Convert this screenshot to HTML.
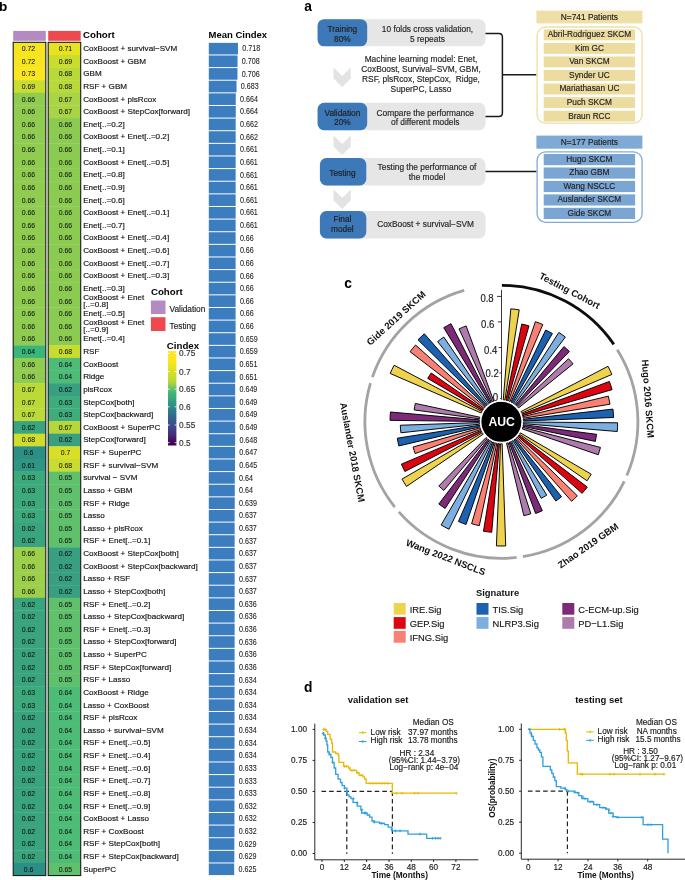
<!DOCTYPE html>
<html><head><meta charset="utf-8"><style>
html,body{margin:0;padding:0;background:#fff;}
svg{display:block;font-family:"Liberation Sans",sans-serif;will-change:transform;}
</style></head><body>
<svg width="685" height="880" viewBox="0 0 685 880">
<text x="304.2" y="10.7" font-size="13.8" font-weight="bold">a</text>
<rect x="317.6" y="19.2" width="167.9" height="27.1" rx="6.5" fill="#E6E6E6"/>
<rect x="317.6" y="19.2" width="49.6" height="27.1" rx="6.5" fill="#3D78B8"/>
<text x="342.4" y="32.3" font-size="8.3" text-anchor="middle" fill="#1e1e1e" stroke="#1e1e1e" stroke-width="0.16">Training</text>
<text x="342.4" y="41.5" font-size="8.3" text-anchor="middle" fill="#1e1e1e" stroke="#1e1e1e" stroke-width="0.16">80%</text>
<text x="427.5" y="32.3" font-size="8.35" text-anchor="middle" fill="#262626" stroke="#262626" stroke-width="0.16">10 folds cross validation,</text>
<text x="427.5" y="41.5" font-size="8.35" text-anchor="middle" fill="#262626" stroke="#262626" stroke-width="0.16">5 repeats</text>
<rect x="317.6" y="102.8" width="167.9" height="27.4" rx="6.5" fill="#E6E6E6"/>
<rect x="317.6" y="102.8" width="49.6" height="27.4" rx="6.5" fill="#3D78B8"/>
<text x="342.4" y="115.6" font-size="8.3" text-anchor="middle" fill="#1e1e1e" stroke="#1e1e1e" stroke-width="0.16">Validation</text>
<text x="342.4" y="124.8" font-size="8.3" text-anchor="middle" fill="#1e1e1e" stroke="#1e1e1e" stroke-width="0.16">20%</text>
<text x="425.3" y="115.6" font-size="8.35" text-anchor="middle" fill="#262626" stroke="#262626" stroke-width="0.16">Compare the performance</text>
<text x="425.3" y="124.8" font-size="8.35" text-anchor="middle" fill="#262626" stroke="#262626" stroke-width="0.16">of different models</text>
<rect x="319.9" y="158.0" width="165.6" height="27.4" rx="6.5" fill="#E6E6E6"/>
<rect x="319.9" y="158.0" width="46.4" height="27.4" rx="6.5" fill="#3D78B8"/>
<text x="342.4" y="175.8" font-size="8.3" text-anchor="middle" fill="#1e1e1e" stroke="#1e1e1e" stroke-width="0.16">Testing</text>
<text x="427.0" y="170.4" font-size="8.35" text-anchor="middle" fill="#262626" stroke="#262626" stroke-width="0.16">Testing the performance of</text>
<text x="427.0" y="179.8" font-size="8.35" text-anchor="middle" fill="#262626" stroke="#262626" stroke-width="0.16">the model</text>
<rect x="319.9" y="211.0" width="165.6" height="27.5" rx="6.5" fill="#E6E6E6"/>
<rect x="319.9" y="211.0" width="46.4" height="27.5" rx="6.5" fill="#3D78B8"/>
<text x="342.4" y="222.3" font-size="8.3" text-anchor="middle" fill="#1e1e1e" stroke="#1e1e1e" stroke-width="0.16">Final</text>
<text x="342.4" y="231.6" font-size="8.3" text-anchor="middle" fill="#1e1e1e" stroke="#1e1e1e" stroke-width="0.16">model</text>
<text x="425.6" y="227.1" font-size="8.35" text-anchor="middle" fill="#262626" stroke="#262626" stroke-width="0.16">CoxBoost + survival−SVM</text>
<polygon points="333.5,67.6 342.2,76.0 350.7,67.6 350.7,78.4 342.2,87.1 333.5,78.4" fill="#E3E3E3"/>
<polygon points="333.5,135.6 342.2,144.0 350.7,135.6 350.7,146.4 342.2,155.1 333.5,146.4" fill="#E3E3E3"/>
<polygon points="333.5,189.4 342.2,197.8 350.7,189.4 350.7,200.2 342.2,208.9 333.5,200.2" fill="#E3E3E3"/>
<text x="421" y="61.9" font-size="8.35" text-anchor="middle" fill="#262626" xml:space="preserve" stroke="#262626" stroke-width="0.16">Machine learning model: Enet,</text>
<text x="421" y="71.9" font-size="8.35" text-anchor="middle" fill="#262626" xml:space="preserve" stroke="#262626" stroke-width="0.16">CoxBoost, Survival−SVM, GBM,</text>
<text x="421" y="81.9" font-size="8.35" text-anchor="middle" fill="#262626" xml:space="preserve" stroke="#262626" stroke-width="0.16">RSF, plsRcox, StepCox,  Ridge,</text>
<text x="421" y="91.9" font-size="8.35" text-anchor="middle" fill="#262626" xml:space="preserve" stroke="#262626" stroke-width="0.16">SuperPC, Lasso</text>
<path d="M485.5,33.4 H498.9 Q502.4,33.4 502.4,36.9 V113 Q502.4,116.5 498.9,116.5 H485.5 M502.4,74.8 H536.5" fill="none" stroke="#1a1a1a" stroke-width="1.5"/>
<path d="M485.5,171.6 H536.5" fill="none" stroke="#1a1a1a" stroke-width="1.5"/>
<rect x="536.4" y="10.6" width="106" height="12.8" fill="#EEDFA7"/>
<text x="589.4" y="19.9" font-size="8.35" text-anchor="middle" fill="#222" stroke="#222" stroke-width="0.16">N=741 Patients</text>
<rect x="537.1" y="27" width="105" height="96.2" rx="8.5" fill="#fff" stroke="#EEDFA7" stroke-width="1.3"/>
<rect x="543.7" y="29.40" width="91.4" height="10.9" fill="#EDDC9F"/>
<text x="589.4" y="37.20" font-size="8.3" text-anchor="middle" fill="#222" stroke="#222" stroke-width="0.16">Abril-Rodriguez SKCM</text>
<rect x="543.7" y="42.95" width="91.4" height="10.9" fill="#EDDC9F"/>
<text x="589.4" y="50.75" font-size="8.3" text-anchor="middle" fill="#222" stroke="#222" stroke-width="0.16">Kim GC</text>
<rect x="543.7" y="56.50" width="91.4" height="10.9" fill="#EDDC9F"/>
<text x="589.4" y="64.30" font-size="8.3" text-anchor="middle" fill="#222" stroke="#222" stroke-width="0.16">Van SKCM</text>
<rect x="543.7" y="70.05" width="91.4" height="10.9" fill="#EDDC9F"/>
<text x="589.4" y="77.85" font-size="8.3" text-anchor="middle" fill="#222" stroke="#222" stroke-width="0.16">Synder UC</text>
<rect x="543.7" y="83.60" width="91.4" height="10.9" fill="#EDDC9F"/>
<text x="589.4" y="91.40" font-size="8.3" text-anchor="middle" fill="#222" stroke="#222" stroke-width="0.16">Mariathasan UC</text>
<rect x="543.7" y="97.15" width="91.4" height="10.9" fill="#EDDC9F"/>
<text x="589.4" y="104.95" font-size="8.3" text-anchor="middle" fill="#222" stroke="#222" stroke-width="0.16">Puch SKCM</text>
<rect x="543.7" y="110.70" width="91.4" height="10.9" fill="#EDDC9F"/>
<text x="589.4" y="118.50" font-size="8.3" text-anchor="middle" fill="#222" stroke="#222" stroke-width="0.16">Braun RCC</text>
<rect x="536.4" y="135.6" width="106" height="13.1" fill="#7FAAD6"/>
<text x="589.4" y="145.0" font-size="8.35" text-anchor="middle" fill="#222" stroke="#222" stroke-width="0.16">N=177 Patients</text>
<rect x="537.1" y="151.9" width="105" height="70.4" rx="8.5" fill="#fff" stroke="#7FAAD6" stroke-width="1.3"/>
<rect x="543.7" y="154.00" width="91.4" height="11.2" fill="#7BA6D4"/>
<text x="589.4" y="162.00" font-size="8.3" text-anchor="middle" fill="#222" stroke="#222" stroke-width="0.16">Hugo SKCM</text>
<rect x="543.7" y="167.45" width="91.4" height="11.2" fill="#7BA6D4"/>
<text x="589.4" y="175.45" font-size="8.3" text-anchor="middle" fill="#222" stroke="#222" stroke-width="0.16">Zhao GBM</text>
<rect x="543.7" y="180.90" width="91.4" height="11.2" fill="#7BA6D4"/>
<text x="589.4" y="188.90" font-size="8.3" text-anchor="middle" fill="#222" stroke="#222" stroke-width="0.16">Wang NSCLC</text>
<rect x="543.7" y="194.35" width="91.4" height="11.2" fill="#7BA6D4"/>
<text x="589.4" y="202.35" font-size="8.3" text-anchor="middle" fill="#222" stroke="#222" stroke-width="0.16">Auslander SKCM</text>
<rect x="543.7" y="207.80" width="91.4" height="11.2" fill="#7BA6D4"/>
<text x="589.4" y="215.80" font-size="8.3" text-anchor="middle" fill="#222" stroke="#222" stroke-width="0.16">Gide SKCM</text>
<text x="-0.9" y="10.9" font-size="13.6" font-weight="bold">b</text>
<rect x="13.2" y="30.9" width="32.599999999999994" height="9.9" fill="#B38BC2"/>
<rect x="48.2" y="30.9" width="32.5" height="9.9" fill="#EE4A4D"/>
<text x="83" y="38" font-size="9.7" font-weight="bold">Cohort</text>
<text x="208.5" y="38.2" font-size="9.5" font-weight="bold">Mean Cindex</text>
<rect x="13.2" y="42.30" width="32.599999999999994" height="12.93" fill="#F6E51F"/>
<rect x="48.2" y="42.30" width="32.5" height="12.93" fill="#E8E31F"/>
<rect x="13.2" y="54.92" width="32.599999999999994" height="12.93" fill="#F6E51F"/>
<rect x="48.2" y="54.92" width="32.5" height="12.93" fill="#CADD2F"/>
<rect x="13.2" y="67.55" width="32.599999999999994" height="12.93" fill="#FCE61F"/>
<rect x="48.2" y="67.55" width="32.5" height="12.93" fill="#B8D93A"/>
<rect x="13.2" y="80.17" width="32.599999999999994" height="12.93" fill="#CBDC2E"/>
<rect x="48.2" y="80.17" width="32.5" height="12.93" fill="#B8D93A"/>
<rect x="13.2" y="92.80" width="32.599999999999994" height="12.93" fill="#8FCC50"/>
<rect x="48.2" y="92.80" width="32.5" height="12.93" fill="#A8D445"/>
<rect x="13.2" y="105.42" width="32.599999999999994" height="12.93" fill="#8FCC50"/>
<rect x="48.2" y="105.42" width="32.5" height="12.93" fill="#A8D445"/>
<rect x="13.2" y="118.05" width="32.599999999999994" height="12.93" fill="#8FCC50"/>
<rect x="48.2" y="118.05" width="32.5" height="12.93" fill="#8CCB52"/>
<rect x="13.2" y="130.68" width="32.599999999999994" height="12.93" fill="#8FCC50"/>
<rect x="48.2" y="130.68" width="32.5" height="12.93" fill="#8CCB52"/>
<rect x="13.2" y="143.30" width="32.599999999999994" height="12.93" fill="#8FCC50"/>
<rect x="48.2" y="143.30" width="32.5" height="12.93" fill="#8CCB52"/>
<rect x="13.2" y="155.93" width="32.599999999999994" height="12.93" fill="#8FCC50"/>
<rect x="48.2" y="155.93" width="32.5" height="12.93" fill="#8CCB52"/>
<rect x="13.2" y="168.55" width="32.599999999999994" height="12.93" fill="#8FCC50"/>
<rect x="48.2" y="168.55" width="32.5" height="12.93" fill="#8CCB52"/>
<rect x="13.2" y="181.18" width="32.599999999999994" height="12.93" fill="#8FCC50"/>
<rect x="48.2" y="181.18" width="32.5" height="12.93" fill="#8CCB52"/>
<rect x="13.2" y="193.80" width="32.599999999999994" height="12.93" fill="#8FCC50"/>
<rect x="48.2" y="193.80" width="32.5" height="12.93" fill="#8CCB52"/>
<rect x="13.2" y="206.43" width="32.599999999999994" height="12.93" fill="#8FCC50"/>
<rect x="48.2" y="206.43" width="32.5" height="12.93" fill="#8CCB52"/>
<rect x="13.2" y="219.05" width="32.599999999999994" height="12.93" fill="#8FCC50"/>
<rect x="48.2" y="219.05" width="32.5" height="12.93" fill="#8CCB52"/>
<rect x="13.2" y="231.68" width="32.599999999999994" height="12.93" fill="#8FCC50"/>
<rect x="48.2" y="231.68" width="32.5" height="12.93" fill="#8CCB52"/>
<rect x="13.2" y="244.30" width="32.599999999999994" height="12.93" fill="#8FCC50"/>
<rect x="48.2" y="244.30" width="32.5" height="12.93" fill="#8CCB52"/>
<rect x="13.2" y="256.93" width="32.599999999999994" height="12.93" fill="#8FCC50"/>
<rect x="48.2" y="256.93" width="32.5" height="12.93" fill="#8CCB52"/>
<rect x="13.2" y="269.55" width="32.599999999999994" height="12.93" fill="#8FCC50"/>
<rect x="48.2" y="269.55" width="32.5" height="12.93" fill="#8CCB52"/>
<rect x="13.2" y="282.18" width="32.599999999999994" height="12.93" fill="#8FCC50"/>
<rect x="48.2" y="282.18" width="32.5" height="12.93" fill="#8CCB52"/>
<rect x="13.2" y="294.80" width="32.599999999999994" height="12.93" fill="#8FCC50"/>
<rect x="48.2" y="294.80" width="32.5" height="12.93" fill="#8CCB52"/>
<rect x="13.2" y="307.43" width="32.599999999999994" height="12.93" fill="#8FCC50"/>
<rect x="48.2" y="307.43" width="32.5" height="12.93" fill="#8CCB52"/>
<rect x="13.2" y="320.05" width="32.599999999999994" height="12.93" fill="#8FCC50"/>
<rect x="48.2" y="320.05" width="32.5" height="12.93" fill="#8CCB52"/>
<rect x="13.2" y="332.68" width="32.599999999999994" height="12.93" fill="#8FCC50"/>
<rect x="48.2" y="332.68" width="32.5" height="12.93" fill="#8CCB52"/>
<rect x="13.2" y="345.30" width="32.599999999999994" height="12.93" fill="#3BB57A"/>
<rect x="48.2" y="345.30" width="32.5" height="12.93" fill="#C8DC2F"/>
<rect x="13.2" y="357.93" width="32.599999999999994" height="12.93" fill="#8FCC50"/>
<rect x="48.2" y="357.93" width="32.5" height="12.93" fill="#4DBC76"/>
<rect x="13.2" y="370.55" width="32.599999999999994" height="12.93" fill="#8FCC50"/>
<rect x="48.2" y="370.55" width="32.5" height="12.93" fill="#4DBC76"/>
<rect x="13.2" y="383.18" width="32.599999999999994" height="12.93" fill="#BCDA37"/>
<rect x="48.2" y="383.18" width="32.5" height="12.93" fill="#389F80"/>
<rect x="13.2" y="395.80" width="32.599999999999994" height="12.93" fill="#BCDA37"/>
<rect x="48.2" y="395.80" width="32.5" height="12.93" fill="#3FAC7C"/>
<rect x="13.2" y="408.43" width="32.599999999999994" height="12.93" fill="#BCDA37"/>
<rect x="48.2" y="408.43" width="32.5" height="12.93" fill="#3FAC7C"/>
<rect x="13.2" y="421.05" width="32.599999999999994" height="12.93" fill="#39A47E"/>
<rect x="48.2" y="421.05" width="32.5" height="12.93" fill="#B5D73C"/>
<rect x="13.2" y="433.68" width="32.599999999999994" height="12.93" fill="#D0DE2A"/>
<rect x="48.2" y="433.68" width="32.5" height="12.93" fill="#389F80"/>
<rect x="13.2" y="446.30" width="32.599999999999994" height="12.93" fill="#2C8F85"/>
<rect x="48.2" y="446.30" width="32.5" height="12.93" fill="#D8DF27"/>
<rect x="13.2" y="458.93" width="32.599999999999994" height="12.93" fill="#2E9683"/>
<rect x="48.2" y="458.93" width="32.5" height="12.93" fill="#CBDC30"/>
<rect x="13.2" y="471.55" width="32.599999999999994" height="12.93" fill="#3DAA7D"/>
<rect x="48.2" y="471.55" width="32.5" height="12.93" fill="#60C16C"/>
<rect x="13.2" y="484.18" width="32.599999999999994" height="12.93" fill="#3DAA7D"/>
<rect x="48.2" y="484.18" width="32.5" height="12.93" fill="#60C16C"/>
<rect x="13.2" y="496.80" width="32.599999999999994" height="12.93" fill="#3DAA7D"/>
<rect x="48.2" y="496.80" width="32.5" height="12.93" fill="#60C16C"/>
<rect x="13.2" y="509.43" width="32.599999999999994" height="12.93" fill="#3DAA7D"/>
<rect x="48.2" y="509.43" width="32.5" height="12.93" fill="#60C16C"/>
<rect x="13.2" y="522.05" width="32.599999999999994" height="12.93" fill="#39A47E"/>
<rect x="48.2" y="522.05" width="32.5" height="12.93" fill="#60C16C"/>
<rect x="13.2" y="534.67" width="32.599999999999994" height="12.93" fill="#39A47E"/>
<rect x="48.2" y="534.67" width="32.5" height="12.93" fill="#60C16C"/>
<rect x="13.2" y="547.30" width="32.599999999999994" height="12.93" fill="#9CCF4A"/>
<rect x="48.2" y="547.30" width="32.5" height="12.93" fill="#389F80"/>
<rect x="13.2" y="559.92" width="32.599999999999994" height="12.93" fill="#9CCF4A"/>
<rect x="48.2" y="559.92" width="32.5" height="12.93" fill="#389F80"/>
<rect x="13.2" y="572.55" width="32.599999999999994" height="12.93" fill="#9CCF4A"/>
<rect x="48.2" y="572.55" width="32.5" height="12.93" fill="#389F80"/>
<rect x="13.2" y="585.17" width="32.599999999999994" height="12.93" fill="#9CCF4A"/>
<rect x="48.2" y="585.17" width="32.5" height="12.93" fill="#389F80"/>
<rect x="13.2" y="597.80" width="32.599999999999994" height="12.93" fill="#39A47E"/>
<rect x="48.2" y="597.80" width="32.5" height="12.93" fill="#60C16C"/>
<rect x="13.2" y="610.42" width="32.599999999999994" height="12.93" fill="#39A47E"/>
<rect x="48.2" y="610.42" width="32.5" height="12.93" fill="#60C16C"/>
<rect x="13.2" y="623.05" width="32.599999999999994" height="12.93" fill="#39A47E"/>
<rect x="48.2" y="623.05" width="32.5" height="12.93" fill="#60C16C"/>
<rect x="13.2" y="635.67" width="32.599999999999994" height="12.93" fill="#39A47E"/>
<rect x="48.2" y="635.67" width="32.5" height="12.93" fill="#60C16C"/>
<rect x="13.2" y="648.30" width="32.599999999999994" height="12.93" fill="#39A47E"/>
<rect x="48.2" y="648.30" width="32.5" height="12.93" fill="#60C16C"/>
<rect x="13.2" y="660.92" width="32.599999999999994" height="12.93" fill="#39A47E"/>
<rect x="48.2" y="660.92" width="32.5" height="12.93" fill="#60C16C"/>
<rect x="13.2" y="673.55" width="32.599999999999994" height="12.93" fill="#39A47E"/>
<rect x="48.2" y="673.55" width="32.5" height="12.93" fill="#60C16C"/>
<rect x="13.2" y="686.17" width="32.599999999999994" height="12.93" fill="#3DAA7D"/>
<rect x="48.2" y="686.17" width="32.5" height="12.93" fill="#4DBC76"/>
<rect x="13.2" y="698.80" width="32.599999999999994" height="12.93" fill="#3DAA7D"/>
<rect x="48.2" y="698.80" width="32.5" height="12.93" fill="#4DBC76"/>
<rect x="13.2" y="711.42" width="32.599999999999994" height="12.93" fill="#39A47E"/>
<rect x="48.2" y="711.42" width="32.5" height="12.93" fill="#4DBC76"/>
<rect x="13.2" y="724.05" width="32.599999999999994" height="12.93" fill="#39A47E"/>
<rect x="48.2" y="724.05" width="32.5" height="12.93" fill="#4DBC76"/>
<rect x="13.2" y="736.67" width="32.599999999999994" height="12.93" fill="#39A47E"/>
<rect x="48.2" y="736.67" width="32.5" height="12.93" fill="#4DBC76"/>
<rect x="13.2" y="749.30" width="32.599999999999994" height="12.93" fill="#39A47E"/>
<rect x="48.2" y="749.30" width="32.5" height="12.93" fill="#4DBC76"/>
<rect x="13.2" y="761.92" width="32.599999999999994" height="12.93" fill="#39A47E"/>
<rect x="48.2" y="761.92" width="32.5" height="12.93" fill="#4DBC76"/>
<rect x="13.2" y="774.55" width="32.599999999999994" height="12.93" fill="#39A47E"/>
<rect x="48.2" y="774.55" width="32.5" height="12.93" fill="#4DBC76"/>
<rect x="13.2" y="787.17" width="32.599999999999994" height="12.93" fill="#39A47E"/>
<rect x="48.2" y="787.17" width="32.5" height="12.93" fill="#4DBC76"/>
<rect x="13.2" y="799.80" width="32.599999999999994" height="12.93" fill="#39A47E"/>
<rect x="48.2" y="799.80" width="32.5" height="12.93" fill="#4DBC76"/>
<rect x="13.2" y="812.42" width="32.599999999999994" height="12.93" fill="#39A47E"/>
<rect x="48.2" y="812.42" width="32.5" height="12.93" fill="#4DBC76"/>
<rect x="13.2" y="825.05" width="32.599999999999994" height="12.93" fill="#39A47E"/>
<rect x="48.2" y="825.05" width="32.5" height="12.93" fill="#4DBC76"/>
<rect x="13.2" y="837.67" width="32.599999999999994" height="12.93" fill="#39A47E"/>
<rect x="48.2" y="837.67" width="32.5" height="12.93" fill="#4DBC76"/>
<rect x="13.2" y="850.30" width="32.599999999999994" height="12.93" fill="#39A47E"/>
<rect x="48.2" y="850.30" width="32.5" height="12.93" fill="#4DBC76"/>
<rect x="13.2" y="862.92" width="32.599999999999994" height="12.93" fill="#2C8F85"/>
<rect x="48.2" y="862.92" width="32.5" height="12.93" fill="#60C16C"/>
<rect x="13.2" y="42.3" width="32.599999999999994" height="833.25" fill="none" stroke="#1a1a1a" stroke-width="1.1"/>
<rect x="48.2" y="42.3" width="32.5" height="833.25" fill="none" stroke="#1a1a1a" stroke-width="1.1"/>
<rect x="208.8" y="42.85" width="29.15" height="11.62" fill="#3B7DBE"/>
<rect x="208.8" y="55.47" width="28.74" height="11.62" fill="#3B7DBE"/>
<rect x="208.8" y="68.10" width="28.66" height="11.62" fill="#3B7DBE"/>
<rect x="208.8" y="80.72" width="27.73" height="11.62" fill="#3B7DBE"/>
<rect x="208.8" y="93.35" width="26.96" height="11.62" fill="#3B7DBE"/>
<rect x="208.8" y="105.97" width="26.96" height="11.62" fill="#3B7DBE"/>
<rect x="208.8" y="118.60" width="26.88" height="11.62" fill="#3B7DBE"/>
<rect x="208.8" y="131.23" width="26.88" height="11.62" fill="#3B7DBE"/>
<rect x="208.8" y="143.85" width="26.84" height="11.62" fill="#3B7DBE"/>
<rect x="208.8" y="156.48" width="26.84" height="11.62" fill="#3B7DBE"/>
<rect x="208.8" y="169.10" width="26.84" height="11.62" fill="#3B7DBE"/>
<rect x="208.8" y="181.73" width="26.84" height="11.62" fill="#3B7DBE"/>
<rect x="208.8" y="194.35" width="26.84" height="11.62" fill="#3B7DBE"/>
<rect x="208.8" y="206.98" width="26.84" height="11.62" fill="#3B7DBE"/>
<rect x="208.8" y="219.60" width="26.84" height="11.62" fill="#3B7DBE"/>
<rect x="208.8" y="232.23" width="26.80" height="11.62" fill="#3B7DBE"/>
<rect x="208.8" y="244.85" width="26.80" height="11.62" fill="#3B7DBE"/>
<rect x="208.8" y="257.48" width="26.80" height="11.62" fill="#3B7DBE"/>
<rect x="208.8" y="270.10" width="26.80" height="11.62" fill="#3B7DBE"/>
<rect x="208.8" y="282.73" width="26.80" height="11.62" fill="#3B7DBE"/>
<rect x="208.8" y="295.35" width="26.80" height="11.62" fill="#3B7DBE"/>
<rect x="208.8" y="307.98" width="26.80" height="11.62" fill="#3B7DBE"/>
<rect x="208.8" y="320.60" width="26.80" height="11.62" fill="#3B7DBE"/>
<rect x="208.8" y="333.23" width="26.76" height="11.62" fill="#3B7DBE"/>
<rect x="208.8" y="345.85" width="26.76" height="11.62" fill="#3B7DBE"/>
<rect x="208.8" y="358.48" width="26.43" height="11.62" fill="#3B7DBE"/>
<rect x="208.8" y="371.10" width="26.43" height="11.62" fill="#3B7DBE"/>
<rect x="208.8" y="383.73" width="26.35" height="11.62" fill="#3B7DBE"/>
<rect x="208.8" y="396.35" width="26.35" height="11.62" fill="#3B7DBE"/>
<rect x="208.8" y="408.98" width="26.35" height="11.62" fill="#3B7DBE"/>
<rect x="208.8" y="421.60" width="26.35" height="11.62" fill="#3B7DBE"/>
<rect x="208.8" y="434.23" width="26.31" height="11.62" fill="#3B7DBE"/>
<rect x="208.8" y="446.85" width="26.27" height="11.62" fill="#3B7DBE"/>
<rect x="208.8" y="459.48" width="26.19" height="11.62" fill="#3B7DBE"/>
<rect x="208.8" y="472.10" width="25.98" height="11.62" fill="#3B7DBE"/>
<rect x="208.8" y="484.73" width="25.98" height="11.62" fill="#3B7DBE"/>
<rect x="208.8" y="497.35" width="25.94" height="11.62" fill="#3B7DBE"/>
<rect x="208.8" y="509.98" width="25.86" height="11.62" fill="#3B7DBE"/>
<rect x="208.8" y="522.60" width="25.86" height="11.62" fill="#3B7DBE"/>
<rect x="208.8" y="535.22" width="25.86" height="11.62" fill="#3B7DBE"/>
<rect x="208.8" y="547.85" width="25.86" height="11.62" fill="#3B7DBE"/>
<rect x="208.8" y="560.47" width="25.86" height="11.62" fill="#3B7DBE"/>
<rect x="208.8" y="573.10" width="25.86" height="11.62" fill="#3B7DBE"/>
<rect x="208.8" y="585.72" width="25.86" height="11.62" fill="#3B7DBE"/>
<rect x="208.8" y="598.35" width="25.82" height="11.62" fill="#3B7DBE"/>
<rect x="208.8" y="610.97" width="25.82" height="11.62" fill="#3B7DBE"/>
<rect x="208.8" y="623.60" width="25.82" height="11.62" fill="#3B7DBE"/>
<rect x="208.8" y="636.22" width="25.82" height="11.62" fill="#3B7DBE"/>
<rect x="208.8" y="648.85" width="25.82" height="11.62" fill="#3B7DBE"/>
<rect x="208.8" y="661.47" width="25.82" height="11.62" fill="#3B7DBE"/>
<rect x="208.8" y="674.10" width="25.74" height="11.62" fill="#3B7DBE"/>
<rect x="208.8" y="686.72" width="25.74" height="11.62" fill="#3B7DBE"/>
<rect x="208.8" y="699.35" width="25.74" height="11.62" fill="#3B7DBE"/>
<rect x="208.8" y="711.97" width="25.74" height="11.62" fill="#3B7DBE"/>
<rect x="208.8" y="724.60" width="25.74" height="11.62" fill="#3B7DBE"/>
<rect x="208.8" y="737.22" width="25.74" height="11.62" fill="#3B7DBE"/>
<rect x="208.8" y="749.85" width="25.74" height="11.62" fill="#3B7DBE"/>
<rect x="208.8" y="762.47" width="25.70" height="11.62" fill="#3B7DBE"/>
<rect x="208.8" y="775.10" width="25.70" height="11.62" fill="#3B7DBE"/>
<rect x="208.8" y="787.72" width="25.70" height="11.62" fill="#3B7DBE"/>
<rect x="208.8" y="800.35" width="25.66" height="11.62" fill="#3B7DBE"/>
<rect x="208.8" y="812.97" width="25.66" height="11.62" fill="#3B7DBE"/>
<rect x="208.8" y="825.60" width="25.66" height="11.62" fill="#3B7DBE"/>
<rect x="208.8" y="838.22" width="25.54" height="11.62" fill="#3B7DBE"/>
<rect x="208.8" y="850.85" width="25.54" height="11.62" fill="#3B7DBE"/>
<rect x="208.8" y="863.47" width="25.38" height="11.62" fill="#3B7DBE"/>
<text x="21.80" y="51.01" font-size="8.1" textLength="13.40" lengthAdjust="spacingAndGlyphs" fill="#111" stroke="#111" stroke-width="0.06">0.72</text>
<text x="58.80" y="51.01" font-size="8.1" textLength="13.40" lengthAdjust="spacingAndGlyphs" fill="#111" stroke="#111" stroke-width="0.06">0.71</text>
<text x="83.2" y="51.11" font-size="8.1" fill="#111" stroke="#111" stroke-width="0.16">CoxBoost + survival−SVM</text>
<text x="242.25" y="51.36" font-size="8.5" textLength="17.90" lengthAdjust="spacingAndGlyphs" fill="#1a1a1a" stroke="#1a1a1a" stroke-width="0.08">0.718</text>
<text x="21.80" y="63.64" font-size="8.1" textLength="13.40" lengthAdjust="spacingAndGlyphs" fill="#111" stroke="#111" stroke-width="0.06">0.72</text>
<text x="58.80" y="63.64" font-size="8.1" textLength="13.40" lengthAdjust="spacingAndGlyphs" fill="#111" stroke="#111" stroke-width="0.06">0.69</text>
<text x="83.2" y="63.74" font-size="8.1" fill="#111" stroke="#111" stroke-width="0.16">CoxBoost + GBM</text>
<text x="241.84" y="63.99" font-size="8.5" textLength="17.90" lengthAdjust="spacingAndGlyphs" fill="#1a1a1a" stroke="#1a1a1a" stroke-width="0.08">0.708</text>
<text x="21.80" y="76.26" font-size="8.1" textLength="13.40" lengthAdjust="spacingAndGlyphs" fill="#111" stroke="#111" stroke-width="0.06">0.73</text>
<text x="58.80" y="76.26" font-size="8.1" textLength="13.40" lengthAdjust="spacingAndGlyphs" fill="#111" stroke="#111" stroke-width="0.06">0.68</text>
<text x="83.2" y="76.36" font-size="8.1" fill="#111" stroke="#111" stroke-width="0.16">GBM</text>
<text x="241.76" y="76.61" font-size="8.5" textLength="17.90" lengthAdjust="spacingAndGlyphs" fill="#1a1a1a" stroke="#1a1a1a" stroke-width="0.08">0.706</text>
<text x="21.80" y="88.89" font-size="8.1" textLength="13.40" lengthAdjust="spacingAndGlyphs" fill="#111" stroke="#111" stroke-width="0.06">0.69</text>
<text x="58.80" y="88.89" font-size="8.1" textLength="13.40" lengthAdjust="spacingAndGlyphs" fill="#111" stroke="#111" stroke-width="0.06">0.68</text>
<text x="83.2" y="88.99" font-size="8.1" fill="#111" stroke="#111" stroke-width="0.16">RSF + GBM</text>
<text x="240.83" y="89.24" font-size="8.5" textLength="17.90" lengthAdjust="spacingAndGlyphs" fill="#1a1a1a" stroke="#1a1a1a" stroke-width="0.08">0.683</text>
<text x="21.80" y="101.51" font-size="8.1" textLength="13.40" lengthAdjust="spacingAndGlyphs" fill="#111" stroke="#111" stroke-width="0.06">0.66</text>
<text x="58.80" y="101.51" font-size="8.1" textLength="13.40" lengthAdjust="spacingAndGlyphs" fill="#111" stroke="#111" stroke-width="0.06">0.67</text>
<text x="83.2" y="101.61" font-size="8.1" fill="#111" stroke="#111" stroke-width="0.16">CoxBoost + plsRcox</text>
<text x="240.06" y="101.86" font-size="8.5" textLength="17.90" lengthAdjust="spacingAndGlyphs" fill="#1a1a1a" stroke="#1a1a1a" stroke-width="0.08">0.664</text>
<text x="21.80" y="114.14" font-size="8.1" textLength="13.40" lengthAdjust="spacingAndGlyphs" fill="#111" stroke="#111" stroke-width="0.06">0.66</text>
<text x="58.80" y="114.14" font-size="8.1" textLength="13.40" lengthAdjust="spacingAndGlyphs" fill="#111" stroke="#111" stroke-width="0.06">0.67</text>
<text x="83.2" y="114.24" font-size="8.1" fill="#111" stroke="#111" stroke-width="0.16">CoxBoost + StepCox[forward]</text>
<text x="240.06" y="114.49" font-size="8.5" textLength="17.90" lengthAdjust="spacingAndGlyphs" fill="#1a1a1a" stroke="#1a1a1a" stroke-width="0.08">0.664</text>
<text x="21.80" y="126.76" font-size="8.1" textLength="13.40" lengthAdjust="spacingAndGlyphs" fill="#111" stroke="#111" stroke-width="0.06">0.66</text>
<text x="58.80" y="126.76" font-size="8.1" textLength="13.40" lengthAdjust="spacingAndGlyphs" fill="#111" stroke="#111" stroke-width="0.06">0.66</text>
<text x="83.2" y="126.86" font-size="8.1" fill="#111" stroke="#111" stroke-width="0.16">Enet[..=0.2]</text>
<text x="239.98" y="127.11" font-size="8.5" textLength="17.90" lengthAdjust="spacingAndGlyphs" fill="#1a1a1a" stroke="#1a1a1a" stroke-width="0.08">0.662</text>
<text x="21.80" y="139.39" font-size="8.1" textLength="13.40" lengthAdjust="spacingAndGlyphs" fill="#111" stroke="#111" stroke-width="0.06">0.66</text>
<text x="58.80" y="139.39" font-size="8.1" textLength="13.40" lengthAdjust="spacingAndGlyphs" fill="#111" stroke="#111" stroke-width="0.06">0.66</text>
<text x="83.2" y="139.49" font-size="8.1" fill="#111" stroke="#111" stroke-width="0.16">CoxBoost + Enet[..=0.2]</text>
<text x="239.98" y="139.74" font-size="8.5" textLength="17.90" lengthAdjust="spacingAndGlyphs" fill="#1a1a1a" stroke="#1a1a1a" stroke-width="0.08">0.662</text>
<text x="21.80" y="152.01" font-size="8.1" textLength="13.40" lengthAdjust="spacingAndGlyphs" fill="#111" stroke="#111" stroke-width="0.06">0.66</text>
<text x="58.80" y="152.01" font-size="8.1" textLength="13.40" lengthAdjust="spacingAndGlyphs" fill="#111" stroke="#111" stroke-width="0.06">0.66</text>
<text x="83.2" y="152.11" font-size="8.1" fill="#111" stroke="#111" stroke-width="0.16">Enet[..=0.1]</text>
<text x="239.94" y="152.36" font-size="8.5" textLength="17.90" lengthAdjust="spacingAndGlyphs" fill="#1a1a1a" stroke="#1a1a1a" stroke-width="0.08">0.661</text>
<text x="21.80" y="164.64" font-size="8.1" textLength="13.40" lengthAdjust="spacingAndGlyphs" fill="#111" stroke="#111" stroke-width="0.06">0.66</text>
<text x="58.80" y="164.64" font-size="8.1" textLength="13.40" lengthAdjust="spacingAndGlyphs" fill="#111" stroke="#111" stroke-width="0.06">0.66</text>
<text x="83.2" y="164.74" font-size="8.1" fill="#111" stroke="#111" stroke-width="0.16">CoxBoost + Enet[..=0.5]</text>
<text x="239.94" y="164.99" font-size="8.5" textLength="17.90" lengthAdjust="spacingAndGlyphs" fill="#1a1a1a" stroke="#1a1a1a" stroke-width="0.08">0.661</text>
<text x="21.80" y="177.26" font-size="8.1" textLength="13.40" lengthAdjust="spacingAndGlyphs" fill="#111" stroke="#111" stroke-width="0.06">0.66</text>
<text x="58.80" y="177.26" font-size="8.1" textLength="13.40" lengthAdjust="spacingAndGlyphs" fill="#111" stroke="#111" stroke-width="0.06">0.66</text>
<text x="83.2" y="177.36" font-size="8.1" fill="#111" stroke="#111" stroke-width="0.16">Enet[..=0.8]</text>
<text x="239.94" y="177.61" font-size="8.5" textLength="17.90" lengthAdjust="spacingAndGlyphs" fill="#1a1a1a" stroke="#1a1a1a" stroke-width="0.08">0.661</text>
<text x="21.80" y="189.89" font-size="8.1" textLength="13.40" lengthAdjust="spacingAndGlyphs" fill="#111" stroke="#111" stroke-width="0.06">0.66</text>
<text x="58.80" y="189.89" font-size="8.1" textLength="13.40" lengthAdjust="spacingAndGlyphs" fill="#111" stroke="#111" stroke-width="0.06">0.66</text>
<text x="83.2" y="189.99" font-size="8.1" fill="#111" stroke="#111" stroke-width="0.16">Enet[..=0.9]</text>
<text x="239.94" y="190.24" font-size="8.5" textLength="17.90" lengthAdjust="spacingAndGlyphs" fill="#1a1a1a" stroke="#1a1a1a" stroke-width="0.08">0.661</text>
<text x="21.80" y="202.51" font-size="8.1" textLength="13.40" lengthAdjust="spacingAndGlyphs" fill="#111" stroke="#111" stroke-width="0.06">0.66</text>
<text x="58.80" y="202.51" font-size="8.1" textLength="13.40" lengthAdjust="spacingAndGlyphs" fill="#111" stroke="#111" stroke-width="0.06">0.66</text>
<text x="83.2" y="202.61" font-size="8.1" fill="#111" stroke="#111" stroke-width="0.16">Enet[..=0.6]</text>
<text x="239.94" y="202.86" font-size="8.5" textLength="17.90" lengthAdjust="spacingAndGlyphs" fill="#1a1a1a" stroke="#1a1a1a" stroke-width="0.08">0.661</text>
<text x="21.80" y="215.14" font-size="8.1" textLength="13.40" lengthAdjust="spacingAndGlyphs" fill="#111" stroke="#111" stroke-width="0.06">0.66</text>
<text x="58.80" y="215.14" font-size="8.1" textLength="13.40" lengthAdjust="spacingAndGlyphs" fill="#111" stroke="#111" stroke-width="0.06">0.66</text>
<text x="83.2" y="215.24" font-size="8.1" fill="#111" stroke="#111" stroke-width="0.16">CoxBoost + Enet[..=0.1]</text>
<text x="239.94" y="215.49" font-size="8.5" textLength="17.90" lengthAdjust="spacingAndGlyphs" fill="#1a1a1a" stroke="#1a1a1a" stroke-width="0.08">0.661</text>
<text x="21.80" y="227.76" font-size="8.1" textLength="13.40" lengthAdjust="spacingAndGlyphs" fill="#111" stroke="#111" stroke-width="0.06">0.66</text>
<text x="58.80" y="227.76" font-size="8.1" textLength="13.40" lengthAdjust="spacingAndGlyphs" fill="#111" stroke="#111" stroke-width="0.06">0.66</text>
<text x="83.2" y="227.86" font-size="8.1" fill="#111" stroke="#111" stroke-width="0.16">Enet[..=0.7]</text>
<text x="239.94" y="228.11" font-size="8.5" textLength="17.90" lengthAdjust="spacingAndGlyphs" fill="#1a1a1a" stroke="#1a1a1a" stroke-width="0.08">0.661</text>
<text x="21.80" y="240.39" font-size="8.1" textLength="13.40" lengthAdjust="spacingAndGlyphs" fill="#111" stroke="#111" stroke-width="0.06">0.66</text>
<text x="58.80" y="240.39" font-size="8.1" textLength="13.40" lengthAdjust="spacingAndGlyphs" fill="#111" stroke="#111" stroke-width="0.06">0.66</text>
<text x="83.2" y="240.49" font-size="8.1" fill="#111" stroke="#111" stroke-width="0.16">CoxBoost + Enet[..=0.4]</text>
<text x="239.90" y="240.74" font-size="8.5" textLength="13.92" lengthAdjust="spacingAndGlyphs" fill="#1a1a1a" stroke="#1a1a1a" stroke-width="0.08">0.66</text>
<text x="21.80" y="253.01" font-size="8.1" textLength="13.40" lengthAdjust="spacingAndGlyphs" fill="#111" stroke="#111" stroke-width="0.06">0.66</text>
<text x="58.80" y="253.01" font-size="8.1" textLength="13.40" lengthAdjust="spacingAndGlyphs" fill="#111" stroke="#111" stroke-width="0.06">0.66</text>
<text x="83.2" y="253.11" font-size="8.1" fill="#111" stroke="#111" stroke-width="0.16">CoxBoost + Enet[..=0.6]</text>
<text x="239.90" y="253.36" font-size="8.5" textLength="13.92" lengthAdjust="spacingAndGlyphs" fill="#1a1a1a" stroke="#1a1a1a" stroke-width="0.08">0.66</text>
<text x="21.80" y="265.64" font-size="8.1" textLength="13.40" lengthAdjust="spacingAndGlyphs" fill="#111" stroke="#111" stroke-width="0.06">0.66</text>
<text x="58.80" y="265.64" font-size="8.1" textLength="13.40" lengthAdjust="spacingAndGlyphs" fill="#111" stroke="#111" stroke-width="0.06">0.66</text>
<text x="83.2" y="265.74" font-size="8.1" fill="#111" stroke="#111" stroke-width="0.16">CoxBoost + Enet[..=0.7]</text>
<text x="239.90" y="265.99" font-size="8.5" textLength="13.92" lengthAdjust="spacingAndGlyphs" fill="#1a1a1a" stroke="#1a1a1a" stroke-width="0.08">0.66</text>
<text x="21.80" y="278.26" font-size="8.1" textLength="13.40" lengthAdjust="spacingAndGlyphs" fill="#111" stroke="#111" stroke-width="0.06">0.66</text>
<text x="58.80" y="278.26" font-size="8.1" textLength="13.40" lengthAdjust="spacingAndGlyphs" fill="#111" stroke="#111" stroke-width="0.06">0.66</text>
<text x="83.2" y="278.36" font-size="8.1" fill="#111" stroke="#111" stroke-width="0.16">CoxBoost + Enet[..=0.3]</text>
<text x="239.90" y="278.61" font-size="8.5" textLength="13.92" lengthAdjust="spacingAndGlyphs" fill="#1a1a1a" stroke="#1a1a1a" stroke-width="0.08">0.66</text>
<text x="21.80" y="290.89" font-size="8.1" textLength="13.40" lengthAdjust="spacingAndGlyphs" fill="#111" stroke="#111" stroke-width="0.06">0.66</text>
<text x="58.80" y="290.89" font-size="8.1" textLength="13.40" lengthAdjust="spacingAndGlyphs" fill="#111" stroke="#111" stroke-width="0.06">0.66</text>
<text x="83.2" y="290.99" font-size="8.1" fill="#111" stroke="#111" stroke-width="0.16">Enet[..=0.3]</text>
<text x="239.90" y="291.24" font-size="8.5" textLength="13.92" lengthAdjust="spacingAndGlyphs" fill="#1a1a1a" stroke="#1a1a1a" stroke-width="0.08">0.66</text>
<text x="21.80" y="303.51" font-size="8.1" textLength="13.40" lengthAdjust="spacingAndGlyphs" fill="#111" stroke="#111" stroke-width="0.06">0.66</text>
<text x="58.80" y="303.51" font-size="8.1" textLength="13.40" lengthAdjust="spacingAndGlyphs" fill="#111" stroke="#111" stroke-width="0.06">0.66</text>
<text x="83.2" y="300.01" font-size="8.1" fill="#111" stroke="#111" stroke-width="0.16">CoxBoost + Enet</text>
<text x="83.2" y="306.81" font-size="8.1" fill="#111" stroke="#111" stroke-width="0.16">[..=0.8]</text>
<text x="239.90" y="303.86" font-size="8.5" textLength="13.92" lengthAdjust="spacingAndGlyphs" fill="#1a1a1a" stroke="#1a1a1a" stroke-width="0.08">0.66</text>
<text x="21.80" y="316.14" font-size="8.1" textLength="13.40" lengthAdjust="spacingAndGlyphs" fill="#111" stroke="#111" stroke-width="0.06">0.66</text>
<text x="58.80" y="316.14" font-size="8.1" textLength="13.40" lengthAdjust="spacingAndGlyphs" fill="#111" stroke="#111" stroke-width="0.06">0.66</text>
<text x="83.2" y="316.24" font-size="8.1" fill="#111" stroke="#111" stroke-width="0.16">Enet[..=0.5]</text>
<text x="239.90" y="316.49" font-size="8.5" textLength="13.92" lengthAdjust="spacingAndGlyphs" fill="#1a1a1a" stroke="#1a1a1a" stroke-width="0.08">0.66</text>
<text x="21.80" y="328.76" font-size="8.1" textLength="13.40" lengthAdjust="spacingAndGlyphs" fill="#111" stroke="#111" stroke-width="0.06">0.66</text>
<text x="58.80" y="328.76" font-size="8.1" textLength="13.40" lengthAdjust="spacingAndGlyphs" fill="#111" stroke="#111" stroke-width="0.06">0.66</text>
<text x="83.2" y="325.26" font-size="8.1" fill="#111" stroke="#111" stroke-width="0.16">CoxBoost + Enet</text>
<text x="83.2" y="332.06" font-size="8.1" fill="#111" stroke="#111" stroke-width="0.16">[..=0.9]</text>
<text x="239.90" y="329.11" font-size="8.5" textLength="13.92" lengthAdjust="spacingAndGlyphs" fill="#1a1a1a" stroke="#1a1a1a" stroke-width="0.08">0.66</text>
<text x="21.80" y="341.39" font-size="8.1" textLength="13.40" lengthAdjust="spacingAndGlyphs" fill="#111" stroke="#111" stroke-width="0.06">0.66</text>
<text x="58.80" y="341.39" font-size="8.1" textLength="13.40" lengthAdjust="spacingAndGlyphs" fill="#111" stroke="#111" stroke-width="0.06">0.66</text>
<text x="83.2" y="341.49" font-size="8.1" fill="#111" stroke="#111" stroke-width="0.16">Enet[..=0.4]</text>
<text x="239.86" y="341.74" font-size="8.5" textLength="17.90" lengthAdjust="spacingAndGlyphs" fill="#1a1a1a" stroke="#1a1a1a" stroke-width="0.08">0.659</text>
<text x="21.80" y="354.01" font-size="8.1" textLength="13.40" lengthAdjust="spacingAndGlyphs" fill="#111" stroke="#111" stroke-width="0.06">0.64</text>
<text x="58.80" y="354.01" font-size="8.1" textLength="13.40" lengthAdjust="spacingAndGlyphs" fill="#111" stroke="#111" stroke-width="0.06">0.68</text>
<text x="83.2" y="354.11" font-size="8.1" fill="#111" stroke="#111" stroke-width="0.16">RSF</text>
<text x="239.86" y="354.36" font-size="8.5" textLength="17.90" lengthAdjust="spacingAndGlyphs" fill="#1a1a1a" stroke="#1a1a1a" stroke-width="0.08">0.659</text>
<text x="21.80" y="366.64" font-size="8.1" textLength="13.40" lengthAdjust="spacingAndGlyphs" fill="#111" stroke="#111" stroke-width="0.06">0.66</text>
<text x="58.80" y="366.64" font-size="8.1" textLength="13.40" lengthAdjust="spacingAndGlyphs" fill="#111" stroke="#111" stroke-width="0.06">0.64</text>
<text x="83.2" y="366.74" font-size="8.1" fill="#111" stroke="#111" stroke-width="0.16">CoxBoost</text>
<text x="239.53" y="366.99" font-size="8.5" textLength="17.90" lengthAdjust="spacingAndGlyphs" fill="#1a1a1a" stroke="#1a1a1a" stroke-width="0.08">0.651</text>
<text x="21.80" y="379.26" font-size="8.1" textLength="13.40" lengthAdjust="spacingAndGlyphs" fill="#111" stroke="#111" stroke-width="0.06">0.66</text>
<text x="58.80" y="379.26" font-size="8.1" textLength="13.40" lengthAdjust="spacingAndGlyphs" fill="#111" stroke="#111" stroke-width="0.06">0.64</text>
<text x="83.2" y="379.36" font-size="8.1" fill="#111" stroke="#111" stroke-width="0.16">Ridge</text>
<text x="239.53" y="379.61" font-size="8.5" textLength="17.90" lengthAdjust="spacingAndGlyphs" fill="#1a1a1a" stroke="#1a1a1a" stroke-width="0.08">0.651</text>
<text x="21.80" y="391.89" font-size="8.1" textLength="13.40" lengthAdjust="spacingAndGlyphs" fill="#111" stroke="#111" stroke-width="0.06">0.67</text>
<text x="58.80" y="391.89" font-size="8.1" textLength="13.40" lengthAdjust="spacingAndGlyphs" fill="#111" stroke="#111" stroke-width="0.06">0.62</text>
<text x="83.2" y="391.99" font-size="8.1" fill="#111" stroke="#111" stroke-width="0.16">plsRcox</text>
<text x="239.45" y="392.24" font-size="8.5" textLength="17.90" lengthAdjust="spacingAndGlyphs" fill="#1a1a1a" stroke="#1a1a1a" stroke-width="0.08">0.649</text>
<text x="21.80" y="404.51" font-size="8.1" textLength="13.40" lengthAdjust="spacingAndGlyphs" fill="#111" stroke="#111" stroke-width="0.06">0.67</text>
<text x="58.80" y="404.51" font-size="8.1" textLength="13.40" lengthAdjust="spacingAndGlyphs" fill="#111" stroke="#111" stroke-width="0.06">0.63</text>
<text x="83.2" y="404.61" font-size="8.1" fill="#111" stroke="#111" stroke-width="0.16">StepCox[both]</text>
<text x="239.45" y="404.86" font-size="8.5" textLength="17.90" lengthAdjust="spacingAndGlyphs" fill="#1a1a1a" stroke="#1a1a1a" stroke-width="0.08">0.649</text>
<text x="21.80" y="417.14" font-size="8.1" textLength="13.40" lengthAdjust="spacingAndGlyphs" fill="#111" stroke="#111" stroke-width="0.06">0.67</text>
<text x="58.80" y="417.14" font-size="8.1" textLength="13.40" lengthAdjust="spacingAndGlyphs" fill="#111" stroke="#111" stroke-width="0.06">0.63</text>
<text x="83.2" y="417.24" font-size="8.1" fill="#111" stroke="#111" stroke-width="0.16">StepCox[backward]</text>
<text x="239.45" y="417.49" font-size="8.5" textLength="17.90" lengthAdjust="spacingAndGlyphs" fill="#1a1a1a" stroke="#1a1a1a" stroke-width="0.08">0.649</text>
<text x="21.80" y="429.76" font-size="8.1" textLength="13.40" lengthAdjust="spacingAndGlyphs" fill="#111" stroke="#111" stroke-width="0.06">0.62</text>
<text x="58.80" y="429.76" font-size="8.1" textLength="13.40" lengthAdjust="spacingAndGlyphs" fill="#111" stroke="#111" stroke-width="0.06">0.67</text>
<text x="83.2" y="429.86" font-size="8.1" fill="#111" stroke="#111" stroke-width="0.16">CoxBoost + SuperPC</text>
<text x="239.45" y="430.11" font-size="8.5" textLength="17.90" lengthAdjust="spacingAndGlyphs" fill="#1a1a1a" stroke="#1a1a1a" stroke-width="0.08">0.649</text>
<text x="21.80" y="442.39" font-size="8.1" textLength="13.40" lengthAdjust="spacingAndGlyphs" fill="#111" stroke="#111" stroke-width="0.06">0.68</text>
<text x="58.80" y="442.39" font-size="8.1" textLength="13.40" lengthAdjust="spacingAndGlyphs" fill="#111" stroke="#111" stroke-width="0.06">0.62</text>
<text x="83.2" y="442.49" font-size="8.1" fill="#111" stroke="#111" stroke-width="0.16">StepCox[forward]</text>
<text x="239.41" y="442.74" font-size="8.5" textLength="17.90" lengthAdjust="spacingAndGlyphs" fill="#1a1a1a" stroke="#1a1a1a" stroke-width="0.08">0.648</text>
<text x="23.71" y="455.01" font-size="8.1" textLength="9.57" lengthAdjust="spacingAndGlyphs" fill="#111" stroke="#111" stroke-width="0.06">0.6</text>
<text x="60.71" y="455.01" font-size="8.1" textLength="9.57" lengthAdjust="spacingAndGlyphs" fill="#111" stroke="#111" stroke-width="0.06">0.7</text>
<text x="83.2" y="455.11" font-size="8.1" fill="#111" stroke="#111" stroke-width="0.16">RSF + SuperPC</text>
<text x="239.37" y="455.36" font-size="8.5" textLength="17.90" lengthAdjust="spacingAndGlyphs" fill="#1a1a1a" stroke="#1a1a1a" stroke-width="0.08">0.647</text>
<text x="21.80" y="467.64" font-size="8.1" textLength="13.40" lengthAdjust="spacingAndGlyphs" fill="#111" stroke="#111" stroke-width="0.06">0.61</text>
<text x="58.80" y="467.64" font-size="8.1" textLength="13.40" lengthAdjust="spacingAndGlyphs" fill="#111" stroke="#111" stroke-width="0.06">0.68</text>
<text x="83.2" y="467.74" font-size="8.1" fill="#111" stroke="#111" stroke-width="0.16">RSF + survival−SVM</text>
<text x="239.29" y="467.99" font-size="8.5" textLength="17.90" lengthAdjust="spacingAndGlyphs" fill="#1a1a1a" stroke="#1a1a1a" stroke-width="0.08">0.645</text>
<text x="21.80" y="480.26" font-size="8.1" textLength="13.40" lengthAdjust="spacingAndGlyphs" fill="#111" stroke="#111" stroke-width="0.06">0.63</text>
<text x="58.80" y="480.26" font-size="8.1" textLength="13.40" lengthAdjust="spacingAndGlyphs" fill="#111" stroke="#111" stroke-width="0.06">0.65</text>
<text x="83.2" y="480.36" font-size="8.1" fill="#111" stroke="#111" stroke-width="0.16">survival − SVM</text>
<text x="239.08" y="480.61" font-size="8.5" textLength="13.92" lengthAdjust="spacingAndGlyphs" fill="#1a1a1a" stroke="#1a1a1a" stroke-width="0.08">0.64</text>
<text x="21.80" y="492.89" font-size="8.1" textLength="13.40" lengthAdjust="spacingAndGlyphs" fill="#111" stroke="#111" stroke-width="0.06">0.63</text>
<text x="58.80" y="492.89" font-size="8.1" textLength="13.40" lengthAdjust="spacingAndGlyphs" fill="#111" stroke="#111" stroke-width="0.06">0.65</text>
<text x="83.2" y="492.99" font-size="8.1" fill="#111" stroke="#111" stroke-width="0.16">Lasso + GBM</text>
<text x="239.08" y="493.24" font-size="8.5" textLength="13.92" lengthAdjust="spacingAndGlyphs" fill="#1a1a1a" stroke="#1a1a1a" stroke-width="0.08">0.64</text>
<text x="21.80" y="505.51" font-size="8.1" textLength="13.40" lengthAdjust="spacingAndGlyphs" fill="#111" stroke="#111" stroke-width="0.06">0.63</text>
<text x="58.80" y="505.51" font-size="8.1" textLength="13.40" lengthAdjust="spacingAndGlyphs" fill="#111" stroke="#111" stroke-width="0.06">0.65</text>
<text x="83.2" y="505.61" font-size="8.1" fill="#111" stroke="#111" stroke-width="0.16">RSF + Ridge</text>
<text x="239.04" y="505.86" font-size="8.5" textLength="17.90" lengthAdjust="spacingAndGlyphs" fill="#1a1a1a" stroke="#1a1a1a" stroke-width="0.08">0.639</text>
<text x="21.80" y="518.14" font-size="8.1" textLength="13.40" lengthAdjust="spacingAndGlyphs" fill="#111" stroke="#111" stroke-width="0.06">0.63</text>
<text x="58.80" y="518.14" font-size="8.1" textLength="13.40" lengthAdjust="spacingAndGlyphs" fill="#111" stroke="#111" stroke-width="0.06">0.65</text>
<text x="83.2" y="518.24" font-size="8.1" fill="#111" stroke="#111" stroke-width="0.16">Lasso</text>
<text x="238.96" y="518.49" font-size="8.5" textLength="17.90" lengthAdjust="spacingAndGlyphs" fill="#1a1a1a" stroke="#1a1a1a" stroke-width="0.08">0.637</text>
<text x="21.80" y="530.76" font-size="8.1" textLength="13.40" lengthAdjust="spacingAndGlyphs" fill="#111" stroke="#111" stroke-width="0.06">0.62</text>
<text x="58.80" y="530.76" font-size="8.1" textLength="13.40" lengthAdjust="spacingAndGlyphs" fill="#111" stroke="#111" stroke-width="0.06">0.65</text>
<text x="83.2" y="530.86" font-size="8.1" fill="#111" stroke="#111" stroke-width="0.16">Lasso + plsRcox</text>
<text x="238.96" y="531.11" font-size="8.5" textLength="17.90" lengthAdjust="spacingAndGlyphs" fill="#1a1a1a" stroke="#1a1a1a" stroke-width="0.08">0.637</text>
<text x="21.80" y="543.39" font-size="8.1" textLength="13.40" lengthAdjust="spacingAndGlyphs" fill="#111" stroke="#111" stroke-width="0.06">0.62</text>
<text x="58.80" y="543.39" font-size="8.1" textLength="13.40" lengthAdjust="spacingAndGlyphs" fill="#111" stroke="#111" stroke-width="0.06">0.65</text>
<text x="83.2" y="543.49" font-size="8.1" fill="#111" stroke="#111" stroke-width="0.16">RSF + Enet[..=0.1]</text>
<text x="238.96" y="543.74" font-size="8.5" textLength="17.90" lengthAdjust="spacingAndGlyphs" fill="#1a1a1a" stroke="#1a1a1a" stroke-width="0.08">0.637</text>
<text x="21.80" y="556.01" font-size="8.1" textLength="13.40" lengthAdjust="spacingAndGlyphs" fill="#111" stroke="#111" stroke-width="0.06">0.66</text>
<text x="58.80" y="556.01" font-size="8.1" textLength="13.40" lengthAdjust="spacingAndGlyphs" fill="#111" stroke="#111" stroke-width="0.06">0.62</text>
<text x="83.2" y="556.11" font-size="8.1" fill="#111" stroke="#111" stroke-width="0.16">CoxBoost + StepCox[both]</text>
<text x="238.96" y="556.36" font-size="8.5" textLength="17.90" lengthAdjust="spacingAndGlyphs" fill="#1a1a1a" stroke="#1a1a1a" stroke-width="0.08">0.637</text>
<text x="21.80" y="568.64" font-size="8.1" textLength="13.40" lengthAdjust="spacingAndGlyphs" fill="#111" stroke="#111" stroke-width="0.06">0.66</text>
<text x="58.80" y="568.64" font-size="8.1" textLength="13.40" lengthAdjust="spacingAndGlyphs" fill="#111" stroke="#111" stroke-width="0.06">0.62</text>
<text x="83.2" y="568.74" font-size="8.1" fill="#111" stroke="#111" stroke-width="0.16">CoxBoost + StepCox[backward]</text>
<text x="238.96" y="568.99" font-size="8.5" textLength="17.90" lengthAdjust="spacingAndGlyphs" fill="#1a1a1a" stroke="#1a1a1a" stroke-width="0.08">0.637</text>
<text x="21.80" y="581.26" font-size="8.1" textLength="13.40" lengthAdjust="spacingAndGlyphs" fill="#111" stroke="#111" stroke-width="0.06">0.66</text>
<text x="58.80" y="581.26" font-size="8.1" textLength="13.40" lengthAdjust="spacingAndGlyphs" fill="#111" stroke="#111" stroke-width="0.06">0.62</text>
<text x="83.2" y="581.36" font-size="8.1" fill="#111" stroke="#111" stroke-width="0.16">Lasso + RSF</text>
<text x="238.96" y="581.61" font-size="8.5" textLength="17.90" lengthAdjust="spacingAndGlyphs" fill="#1a1a1a" stroke="#1a1a1a" stroke-width="0.08">0.637</text>
<text x="21.80" y="593.89" font-size="8.1" textLength="13.40" lengthAdjust="spacingAndGlyphs" fill="#111" stroke="#111" stroke-width="0.06">0.66</text>
<text x="58.80" y="593.89" font-size="8.1" textLength="13.40" lengthAdjust="spacingAndGlyphs" fill="#111" stroke="#111" stroke-width="0.06">0.62</text>
<text x="83.2" y="593.99" font-size="8.1" fill="#111" stroke="#111" stroke-width="0.16">Lasso + StepCox[both]</text>
<text x="238.96" y="594.24" font-size="8.5" textLength="17.90" lengthAdjust="spacingAndGlyphs" fill="#1a1a1a" stroke="#1a1a1a" stroke-width="0.08">0.637</text>
<text x="21.80" y="606.51" font-size="8.1" textLength="13.40" lengthAdjust="spacingAndGlyphs" fill="#111" stroke="#111" stroke-width="0.06">0.62</text>
<text x="58.80" y="606.51" font-size="8.1" textLength="13.40" lengthAdjust="spacingAndGlyphs" fill="#111" stroke="#111" stroke-width="0.06">0.65</text>
<text x="83.2" y="606.61" font-size="8.1" fill="#111" stroke="#111" stroke-width="0.16">RSF + Enet[..=0.2]</text>
<text x="238.92" y="606.86" font-size="8.5" textLength="17.90" lengthAdjust="spacingAndGlyphs" fill="#1a1a1a" stroke="#1a1a1a" stroke-width="0.08">0.636</text>
<text x="21.80" y="619.14" font-size="8.1" textLength="13.40" lengthAdjust="spacingAndGlyphs" fill="#111" stroke="#111" stroke-width="0.06">0.62</text>
<text x="58.80" y="619.14" font-size="8.1" textLength="13.40" lengthAdjust="spacingAndGlyphs" fill="#111" stroke="#111" stroke-width="0.06">0.65</text>
<text x="83.2" y="619.24" font-size="8.1" fill="#111" stroke="#111" stroke-width="0.16">Lasso + StepCox[backward]</text>
<text x="238.92" y="619.49" font-size="8.5" textLength="17.90" lengthAdjust="spacingAndGlyphs" fill="#1a1a1a" stroke="#1a1a1a" stroke-width="0.08">0.636</text>
<text x="21.80" y="631.76" font-size="8.1" textLength="13.40" lengthAdjust="spacingAndGlyphs" fill="#111" stroke="#111" stroke-width="0.06">0.62</text>
<text x="58.80" y="631.76" font-size="8.1" textLength="13.40" lengthAdjust="spacingAndGlyphs" fill="#111" stroke="#111" stroke-width="0.06">0.65</text>
<text x="83.2" y="631.86" font-size="8.1" fill="#111" stroke="#111" stroke-width="0.16">RSF + Enet[..=0.3]</text>
<text x="238.92" y="632.11" font-size="8.5" textLength="17.90" lengthAdjust="spacingAndGlyphs" fill="#1a1a1a" stroke="#1a1a1a" stroke-width="0.08">0.636</text>
<text x="21.80" y="644.39" font-size="8.1" textLength="13.40" lengthAdjust="spacingAndGlyphs" fill="#111" stroke="#111" stroke-width="0.06">0.62</text>
<text x="58.80" y="644.39" font-size="8.1" textLength="13.40" lengthAdjust="spacingAndGlyphs" fill="#111" stroke="#111" stroke-width="0.06">0.65</text>
<text x="83.2" y="644.49" font-size="8.1" fill="#111" stroke="#111" stroke-width="0.16">Lasso + StepCox[forward]</text>
<text x="238.92" y="644.74" font-size="8.5" textLength="17.90" lengthAdjust="spacingAndGlyphs" fill="#1a1a1a" stroke="#1a1a1a" stroke-width="0.08">0.636</text>
<text x="21.80" y="657.01" font-size="8.1" textLength="13.40" lengthAdjust="spacingAndGlyphs" fill="#111" stroke="#111" stroke-width="0.06">0.62</text>
<text x="58.80" y="657.01" font-size="8.1" textLength="13.40" lengthAdjust="spacingAndGlyphs" fill="#111" stroke="#111" stroke-width="0.06">0.65</text>
<text x="83.2" y="657.11" font-size="8.1" fill="#111" stroke="#111" stroke-width="0.16">Lasso + SuperPC</text>
<text x="238.92" y="657.36" font-size="8.5" textLength="17.90" lengthAdjust="spacingAndGlyphs" fill="#1a1a1a" stroke="#1a1a1a" stroke-width="0.08">0.636</text>
<text x="21.80" y="669.64" font-size="8.1" textLength="13.40" lengthAdjust="spacingAndGlyphs" fill="#111" stroke="#111" stroke-width="0.06">0.62</text>
<text x="58.80" y="669.64" font-size="8.1" textLength="13.40" lengthAdjust="spacingAndGlyphs" fill="#111" stroke="#111" stroke-width="0.06">0.65</text>
<text x="83.2" y="669.74" font-size="8.1" fill="#111" stroke="#111" stroke-width="0.16">RSF + StepCox[forward]</text>
<text x="238.92" y="669.99" font-size="8.5" textLength="17.90" lengthAdjust="spacingAndGlyphs" fill="#1a1a1a" stroke="#1a1a1a" stroke-width="0.08">0.636</text>
<text x="21.80" y="682.26" font-size="8.1" textLength="13.40" lengthAdjust="spacingAndGlyphs" fill="#111" stroke="#111" stroke-width="0.06">0.62</text>
<text x="58.80" y="682.26" font-size="8.1" textLength="13.40" lengthAdjust="spacingAndGlyphs" fill="#111" stroke="#111" stroke-width="0.06">0.65</text>
<text x="83.2" y="682.36" font-size="8.1" fill="#111" stroke="#111" stroke-width="0.16">RSF + Lasso</text>
<text x="238.84" y="682.61" font-size="8.5" textLength="17.90" lengthAdjust="spacingAndGlyphs" fill="#1a1a1a" stroke="#1a1a1a" stroke-width="0.08">0.634</text>
<text x="21.80" y="694.89" font-size="8.1" textLength="13.40" lengthAdjust="spacingAndGlyphs" fill="#111" stroke="#111" stroke-width="0.06">0.63</text>
<text x="58.80" y="694.89" font-size="8.1" textLength="13.40" lengthAdjust="spacingAndGlyphs" fill="#111" stroke="#111" stroke-width="0.06">0.64</text>
<text x="83.2" y="694.99" font-size="8.1" fill="#111" stroke="#111" stroke-width="0.16">CoxBoost + Ridge</text>
<text x="238.84" y="695.24" font-size="8.5" textLength="17.90" lengthAdjust="spacingAndGlyphs" fill="#1a1a1a" stroke="#1a1a1a" stroke-width="0.08">0.634</text>
<text x="21.80" y="707.51" font-size="8.1" textLength="13.40" lengthAdjust="spacingAndGlyphs" fill="#111" stroke="#111" stroke-width="0.06">0.63</text>
<text x="58.80" y="707.51" font-size="8.1" textLength="13.40" lengthAdjust="spacingAndGlyphs" fill="#111" stroke="#111" stroke-width="0.06">0.64</text>
<text x="83.2" y="707.61" font-size="8.1" fill="#111" stroke="#111" stroke-width="0.16">Lasso + CoxBoost</text>
<text x="238.84" y="707.86" font-size="8.5" textLength="17.90" lengthAdjust="spacingAndGlyphs" fill="#1a1a1a" stroke="#1a1a1a" stroke-width="0.08">0.634</text>
<text x="21.80" y="720.14" font-size="8.1" textLength="13.40" lengthAdjust="spacingAndGlyphs" fill="#111" stroke="#111" stroke-width="0.06">0.62</text>
<text x="58.80" y="720.14" font-size="8.1" textLength="13.40" lengthAdjust="spacingAndGlyphs" fill="#111" stroke="#111" stroke-width="0.06">0.64</text>
<text x="83.2" y="720.24" font-size="8.1" fill="#111" stroke="#111" stroke-width="0.16">RSF + plsRcox</text>
<text x="238.84" y="720.49" font-size="8.5" textLength="17.90" lengthAdjust="spacingAndGlyphs" fill="#1a1a1a" stroke="#1a1a1a" stroke-width="0.08">0.634</text>
<text x="21.80" y="732.76" font-size="8.1" textLength="13.40" lengthAdjust="spacingAndGlyphs" fill="#111" stroke="#111" stroke-width="0.06">0.62</text>
<text x="58.80" y="732.76" font-size="8.1" textLength="13.40" lengthAdjust="spacingAndGlyphs" fill="#111" stroke="#111" stroke-width="0.06">0.64</text>
<text x="83.2" y="732.86" font-size="8.1" fill="#111" stroke="#111" stroke-width="0.16">Lasso + survival−SVM</text>
<text x="238.84" y="733.11" font-size="8.5" textLength="17.90" lengthAdjust="spacingAndGlyphs" fill="#1a1a1a" stroke="#1a1a1a" stroke-width="0.08">0.634</text>
<text x="21.80" y="745.39" font-size="8.1" textLength="13.40" lengthAdjust="spacingAndGlyphs" fill="#111" stroke="#111" stroke-width="0.06">0.62</text>
<text x="58.80" y="745.39" font-size="8.1" textLength="13.40" lengthAdjust="spacingAndGlyphs" fill="#111" stroke="#111" stroke-width="0.06">0.64</text>
<text x="83.2" y="745.49" font-size="8.1" fill="#111" stroke="#111" stroke-width="0.16">RSF + Enet[..=0.5]</text>
<text x="238.84" y="745.74" font-size="8.5" textLength="17.90" lengthAdjust="spacingAndGlyphs" fill="#1a1a1a" stroke="#1a1a1a" stroke-width="0.08">0.634</text>
<text x="21.80" y="758.01" font-size="8.1" textLength="13.40" lengthAdjust="spacingAndGlyphs" fill="#111" stroke="#111" stroke-width="0.06">0.62</text>
<text x="58.80" y="758.01" font-size="8.1" textLength="13.40" lengthAdjust="spacingAndGlyphs" fill="#111" stroke="#111" stroke-width="0.06">0.64</text>
<text x="83.2" y="758.11" font-size="8.1" fill="#111" stroke="#111" stroke-width="0.16">RSF + Enet[..=0.4]</text>
<text x="238.84" y="758.36" font-size="8.5" textLength="17.90" lengthAdjust="spacingAndGlyphs" fill="#1a1a1a" stroke="#1a1a1a" stroke-width="0.08">0.634</text>
<text x="21.80" y="770.64" font-size="8.1" textLength="13.40" lengthAdjust="spacingAndGlyphs" fill="#111" stroke="#111" stroke-width="0.06">0.62</text>
<text x="58.80" y="770.64" font-size="8.1" textLength="13.40" lengthAdjust="spacingAndGlyphs" fill="#111" stroke="#111" stroke-width="0.06">0.64</text>
<text x="83.2" y="770.74" font-size="8.1" fill="#111" stroke="#111" stroke-width="0.16">RSF + Enet[..=0.6]</text>
<text x="238.80" y="770.99" font-size="8.5" textLength="17.90" lengthAdjust="spacingAndGlyphs" fill="#1a1a1a" stroke="#1a1a1a" stroke-width="0.08">0.633</text>
<text x="21.80" y="783.26" font-size="8.1" textLength="13.40" lengthAdjust="spacingAndGlyphs" fill="#111" stroke="#111" stroke-width="0.06">0.62</text>
<text x="58.80" y="783.26" font-size="8.1" textLength="13.40" lengthAdjust="spacingAndGlyphs" fill="#111" stroke="#111" stroke-width="0.06">0.64</text>
<text x="83.2" y="783.36" font-size="8.1" fill="#111" stroke="#111" stroke-width="0.16">RSF + Enet[..=0.7]</text>
<text x="238.80" y="783.61" font-size="8.5" textLength="17.90" lengthAdjust="spacingAndGlyphs" fill="#1a1a1a" stroke="#1a1a1a" stroke-width="0.08">0.633</text>
<text x="21.80" y="795.89" font-size="8.1" textLength="13.40" lengthAdjust="spacingAndGlyphs" fill="#111" stroke="#111" stroke-width="0.06">0.62</text>
<text x="58.80" y="795.89" font-size="8.1" textLength="13.40" lengthAdjust="spacingAndGlyphs" fill="#111" stroke="#111" stroke-width="0.06">0.64</text>
<text x="83.2" y="795.99" font-size="8.1" fill="#111" stroke="#111" stroke-width="0.16">RSF + Enet[..=0.8]</text>
<text x="238.80" y="796.24" font-size="8.5" textLength="17.90" lengthAdjust="spacingAndGlyphs" fill="#1a1a1a" stroke="#1a1a1a" stroke-width="0.08">0.633</text>
<text x="21.80" y="808.51" font-size="8.1" textLength="13.40" lengthAdjust="spacingAndGlyphs" fill="#111" stroke="#111" stroke-width="0.06">0.62</text>
<text x="58.80" y="808.51" font-size="8.1" textLength="13.40" lengthAdjust="spacingAndGlyphs" fill="#111" stroke="#111" stroke-width="0.06">0.64</text>
<text x="83.2" y="808.61" font-size="8.1" fill="#111" stroke="#111" stroke-width="0.16">RSF + Enet[..=0.9]</text>
<text x="238.76" y="808.86" font-size="8.5" textLength="17.90" lengthAdjust="spacingAndGlyphs" fill="#1a1a1a" stroke="#1a1a1a" stroke-width="0.08">0.632</text>
<text x="21.80" y="821.14" font-size="8.1" textLength="13.40" lengthAdjust="spacingAndGlyphs" fill="#111" stroke="#111" stroke-width="0.06">0.62</text>
<text x="58.80" y="821.14" font-size="8.1" textLength="13.40" lengthAdjust="spacingAndGlyphs" fill="#111" stroke="#111" stroke-width="0.06">0.64</text>
<text x="83.2" y="821.24" font-size="8.1" fill="#111" stroke="#111" stroke-width="0.16">CoxBoost + Lasso</text>
<text x="238.76" y="821.49" font-size="8.5" textLength="17.90" lengthAdjust="spacingAndGlyphs" fill="#1a1a1a" stroke="#1a1a1a" stroke-width="0.08">0.632</text>
<text x="21.80" y="833.76" font-size="8.1" textLength="13.40" lengthAdjust="spacingAndGlyphs" fill="#111" stroke="#111" stroke-width="0.06">0.62</text>
<text x="58.80" y="833.76" font-size="8.1" textLength="13.40" lengthAdjust="spacingAndGlyphs" fill="#111" stroke="#111" stroke-width="0.06">0.64</text>
<text x="83.2" y="833.86" font-size="8.1" fill="#111" stroke="#111" stroke-width="0.16">RSF + CoxBoost</text>
<text x="238.76" y="834.11" font-size="8.5" textLength="17.90" lengthAdjust="spacingAndGlyphs" fill="#1a1a1a" stroke="#1a1a1a" stroke-width="0.08">0.632</text>
<text x="21.80" y="846.39" font-size="8.1" textLength="13.40" lengthAdjust="spacingAndGlyphs" fill="#111" stroke="#111" stroke-width="0.06">0.62</text>
<text x="58.80" y="846.39" font-size="8.1" textLength="13.40" lengthAdjust="spacingAndGlyphs" fill="#111" stroke="#111" stroke-width="0.06">0.64</text>
<text x="83.2" y="846.49" font-size="8.1" fill="#111" stroke="#111" stroke-width="0.16">RSF + StepCox[both]</text>
<text x="238.64" y="846.74" font-size="8.5" textLength="17.90" lengthAdjust="spacingAndGlyphs" fill="#1a1a1a" stroke="#1a1a1a" stroke-width="0.08">0.629</text>
<text x="21.80" y="859.01" font-size="8.1" textLength="13.40" lengthAdjust="spacingAndGlyphs" fill="#111" stroke="#111" stroke-width="0.06">0.62</text>
<text x="58.80" y="859.01" font-size="8.1" textLength="13.40" lengthAdjust="spacingAndGlyphs" fill="#111" stroke="#111" stroke-width="0.06">0.64</text>
<text x="83.2" y="859.11" font-size="8.1" fill="#111" stroke="#111" stroke-width="0.16">RSF + StepCox[backward]</text>
<text x="238.64" y="859.36" font-size="8.5" textLength="17.90" lengthAdjust="spacingAndGlyphs" fill="#1a1a1a" stroke="#1a1a1a" stroke-width="0.08">0.629</text>
<text x="23.71" y="871.64" font-size="8.1" textLength="9.57" lengthAdjust="spacingAndGlyphs" fill="#111" stroke="#111" stroke-width="0.06">0.6</text>
<text x="58.80" y="871.64" font-size="8.1" textLength="13.40" lengthAdjust="spacingAndGlyphs" fill="#111" stroke="#111" stroke-width="0.06">0.65</text>
<text x="83.2" y="871.74" font-size="8.1" fill="#111" stroke="#111" stroke-width="0.16">SuperPC</text>
<text x="238.48" y="871.99" font-size="8.5" textLength="17.90" lengthAdjust="spacingAndGlyphs" fill="#1a1a1a" stroke="#1a1a1a" stroke-width="0.08">0.625</text>
<text x="150.9" y="295" font-size="9.7" font-weight="bold">Cohort</text>
<rect x="150.9" y="300.5" width="14.6" height="13.6" fill="#B38BC2"/>
<rect x="150.9" y="317.2" width="14.6" height="13.8" fill="#EE4A4D"/>
<text x="169.5" y="312" font-size="8.3" fill="#222" stroke="#222" stroke-width="0.16">Validation</text>
<text x="169.5" y="328.6" font-size="8.3" fill="#222" stroke="#222" stroke-width="0.16">Testing</text>
<text x="166.8" y="348.6" font-size="9.7" font-weight="bold">Cindex</text>
<defs><linearGradient id="cbar" x1="0" y1="1" x2="0" y2="0">
<stop offset="0.0247" stop-color="#440154"/>
<stop offset="0.1198" stop-color="#472D7B"/>
<stop offset="0.2148" stop-color="#3E4A89"/>
<stop offset="0.3099" stop-color="#32678D"/>
<stop offset="0.4049" stop-color="#2A8A8B"/>
<stop offset="0.4430" stop-color="#2E9683"/>
<stop offset="0.4810" stop-color="#36A280"/>
<stop offset="0.5190" stop-color="#3DAB7C"/>
<stop offset="0.5570" stop-color="#3EB679"/>
<stop offset="0.5951" stop-color="#5EC06C"/>
<stop offset="0.6331" stop-color="#8CCB52"/>
<stop offset="0.6711" stop-color="#B0D640"/>
<stop offset="0.7091" stop-color="#C6DB30"/>
<stop offset="0.7471" stop-color="#CEDD2D"/>
<stop offset="0.7852" stop-color="#DAE027"/>
<stop offset="0.8232" stop-color="#E6E320"/>
<stop offset="0.8612" stop-color="#F2E51F"/>
<stop offset="0.8992" stop-color="#FAE61F"/>
<stop offset="0.9753" stop-color="#FDE725"/>
</linearGradient></defs>
<rect x="168" y="351.1" width="8.4" height="94.4" fill="url(#cbar)"/>
<line x1="168" x2="169.8" y1="353.4" y2="353.4" stroke="#fff" stroke-width="0.8"/>
<line x1="174.6" x2="176.4" y1="353.4" y2="353.4" stroke="#fff" stroke-width="0.8"/>
<text x="179.1" y="356.4" font-size="8.3" fill="#333" stroke="#333" stroke-width="0.16">0.75</text>
<line x1="168" x2="169.8" y1="371.6" y2="371.6" stroke="#fff" stroke-width="0.8"/>
<line x1="174.6" x2="176.4" y1="371.6" y2="371.6" stroke="#fff" stroke-width="0.8"/>
<text x="179.1" y="374.6" font-size="8.3" fill="#333" stroke="#333" stroke-width="0.16">0.7</text>
<line x1="168" x2="169.8" y1="389.1" y2="389.1" stroke="#fff" stroke-width="0.8"/>
<line x1="174.6" x2="176.4" y1="389.1" y2="389.1" stroke="#fff" stroke-width="0.8"/>
<text x="179.1" y="392.1" font-size="8.3" fill="#333" stroke="#333" stroke-width="0.16">0.65</text>
<line x1="168" x2="169.8" y1="406.8" y2="406.8" stroke="#fff" stroke-width="0.8"/>
<line x1="174.6" x2="176.4" y1="406.8" y2="406.8" stroke="#fff" stroke-width="0.8"/>
<text x="179.1" y="409.8" font-size="8.3" fill="#333" stroke="#333" stroke-width="0.16">0.6</text>
<line x1="168" x2="169.8" y1="425" y2="425" stroke="#fff" stroke-width="0.8"/>
<line x1="174.6" x2="176.4" y1="425" y2="425" stroke="#fff" stroke-width="0.8"/>
<text x="179.1" y="428.0" font-size="8.3" fill="#333" stroke="#333" stroke-width="0.16">0.55</text>
<line x1="168" x2="169.8" y1="442.7" y2="442.7" stroke="#fff" stroke-width="0.8"/>
<line x1="174.6" x2="176.4" y1="442.7" y2="442.7" stroke="#fff" stroke-width="0.8"/>
<text x="179.1" y="445.7" font-size="8.3" fill="#333" stroke="#333" stroke-width="0.16">0.5</text>
<text x="344.3" y="288.0" font-size="13.8" font-weight="bold">c</text>
<path d="M501.88,285.30 A136.5,136.5 0 0 1 613.83,344.39" fill="none" stroke="#0d0d0d" stroke-width="2.8"/>
<path d="M617.28,349.67 A136.5,136.5 0 0 1 626.86,475.57" fill="none" stroke="#A3A3A3" stroke-width="2.8"/>
<path d="M624.24,481.32 A136.5,136.5 0 0 1 522.87,556.60" fill="none" stroke="#A3A3A3" stroke-width="2.8"/>
<path d="M516.62,557.45 A136.5,136.5 0 0 1 398.85,511.89" fill="none" stroke="#A3A3A3" stroke-width="2.8"/>
<path d="M394.80,507.05 A136.5,136.5 0 0 1 370.49,383.15" fill="none" stroke="#A3A3A3" stroke-width="2.8"/>
<path d="M372.41,377.13 A136.5,136.5 0 0 1 464.23,290.46" fill="none" stroke="#A3A3A3" stroke-width="2.8"/>
<path d="M503.22,399.88 L510.79,308.82 A113.37,113.37 0 0 1 519.23,309.85 L504.86,400.07 A22.0,22.0 0 0 0 503.22,399.88Z" fill="#EED34F" stroke="#000" stroke-width="0.95" stroke-linejoin="miter"/>
<path d="M505.88,400.26 L521.73,324.06 A99.83,99.83 0 0 1 529.00,325.86 L507.48,400.66 A22.0,22.0 0 0 0 505.88,400.26Z" fill="#DC0612" stroke="#000" stroke-width="0.95" stroke-linejoin="miter"/>
<path d="M508.47,400.97 L535.39,321.68 A105.73,105.73 0 0 1 542.80,324.51 L510.01,401.56 A22.0,22.0 0 0 0 508.47,400.97Z" fill="#F98072" stroke="#000" stroke-width="0.95" stroke-linejoin="miter"/>
<path d="M510.96,401.98 L545.68,330.01 A101.91,101.91 0 0 1 552.43,333.59 L512.42,402.76 A22.0,22.0 0 0 0 510.96,401.98Z" fill="#1D62B0" stroke="#000" stroke-width="0.95" stroke-linejoin="miter"/>
<path d="M513.30,403.30 L558.85,332.48 A106.20,106.20 0 0 1 565.39,337.04 L514.66,404.24 A22.0,22.0 0 0 0 513.30,403.30Z" fill="#7CAEE0" stroke="#000" stroke-width="0.95" stroke-linejoin="miter"/>
<path d="M515.47,404.89 L563.93,346.61 A97.79,97.79 0 0 1 569.39,351.51 L516.70,405.99 A22.0,22.0 0 0 0 515.47,404.89Z" fill="#7D2A78" stroke="#000" stroke-width="0.95" stroke-linejoin="miter"/>
<path d="M517.42,406.73 L568.50,358.68 A92.13,92.13 0 0 1 573.05,363.88 L518.51,407.97 A22.0,22.0 0 0 0 517.42,406.73Z" fill="#AF7BAC" stroke="#000" stroke-width="0.95" stroke-linejoin="miter"/>
<path d="M520.91,411.64 L608.00,366.31 A120.18,120.18 0 0 1 611.86,374.46 L521.62,413.13 A22.0,22.0 0 0 0 520.91,411.64Z" fill="#EED34F" stroke="#000" stroke-width="0.95" stroke-linejoin="miter"/>
<path d="M522.01,414.10 L609.36,381.44 A115.26,115.26 0 0 1 612.08,389.64 L522.53,415.66 A22.0,22.0 0 0 0 522.01,414.10Z" fill="#DC0612" stroke="#000" stroke-width="0.95" stroke-linejoin="miter"/>
<path d="M522.79,416.66 L608.34,396.13 A109.98,109.98 0 0 1 609.97,404.22 L523.12,418.28 A22.0,22.0 0 0 0 522.79,416.66Z" fill="#F98072" stroke="#000" stroke-width="0.95" stroke-linejoin="miter"/>
<path d="M523.26,419.31 L612.96,409.09 A112.28,112.28 0 0 1 613.60,417.49 L523.38,420.96 A22.0,22.0 0 0 0 523.26,419.31Z" fill="#1D62B0" stroke="#000" stroke-width="0.95" stroke-linejoin="miter"/>
<path d="M523.40,421.99 L617.64,422.81 A116.25,116.25 0 0 1 617.24,431.53 L523.32,423.64 A22.0,22.0 0 0 0 523.40,421.99Z" fill="#7CAEE0" stroke="#000" stroke-width="0.95" stroke-linejoin="miter"/>
<path d="M523.21,424.67 L596.54,434.32 A95.96,95.96 0 0 1 595.33,441.42 L522.94,426.30 A22.0,22.0 0 0 0 523.21,424.67Z" fill="#7D2A78" stroke="#000" stroke-width="0.95" stroke-linejoin="miter"/>
<path d="M522.70,427.31 L600.45,447.42 A102.31,102.31 0 0 1 598.25,454.77 L522.23,428.89 A22.0,22.0 0 0 0 522.70,427.31Z" fill="#AF7BAC" stroke="#000" stroke-width="0.95" stroke-linejoin="miter"/>
<path d="M520.40,432.88 L591.23,474.19 A103.99,103.99 0 0 1 587.05,480.78 L519.52,434.28 A22.0,22.0 0 0 0 520.40,432.88Z" fill="#EED34F" stroke="#000" stroke-width="0.95" stroke-linejoin="miter"/>
<path d="M518.91,435.12 L587.29,487.11 A107.90,107.90 0 0 1 582.15,493.37 L517.86,436.39 A22.0,22.0 0 0 0 518.91,435.12Z" fill="#DC0612" stroke="#000" stroke-width="0.95" stroke-linejoin="miter"/>
<path d="M517.16,437.15 L577.37,495.81 A106.06,106.06 0 0 1 571.61,501.30 L515.96,438.29 A22.0,22.0 0 0 0 517.16,437.15Z" fill="#F98072" stroke="#000" stroke-width="0.95" stroke-linejoin="miter"/>
<path d="M515.17,438.96 L561.54,496.74 A96.09,96.09 0 0 1 555.75,501.03 L513.85,439.94 A22.0,22.0 0 0 0 515.17,438.96Z" fill="#1D62B0" stroke="#000" stroke-width="0.95" stroke-linejoin="miter"/>
<path d="M512.98,440.51 L546.77,495.11 A86.21,86.21 0 0 1 541.14,498.31 L511.54,441.32 A22.0,22.0 0 0 0 512.98,440.51Z" fill="#7CAEE0" stroke="#000" stroke-width="0.95" stroke-linejoin="miter"/>
<path d="M510.61,441.78 L542.37,510.67 A97.86,97.86 0 0 1 535.59,513.50 L509.09,442.41 A22.0,22.0 0 0 0 510.61,441.78Z" fill="#7D2A78" stroke="#000" stroke-width="0.95" stroke-linejoin="miter"/>
<path d="M508.11,442.75 L530.84,513.78 A96.58,96.58 0 0 1 523.86,515.73 L506.52,443.20 A22.0,22.0 0 0 0 508.11,442.75Z" fill="#AF7BAC" stroke="#000" stroke-width="0.95" stroke-linejoin="miter"/>
<path d="M502.17,443.79 L505.73,545.93 A124.21,124.21 0 0 1 496.42,545.91 L500.52,443.78 A22.0,22.0 0 0 0 502.17,443.79Z" fill="#EED34F" stroke="#000" stroke-width="0.95" stroke-linejoin="miter"/>
<path d="M499.48,443.72 L491.73,532.29 A110.91,110.91 0 0 1 483.48,531.25 L497.84,443.51 A22.0,22.0 0 0 0 499.48,443.72Z" fill="#DC0612" stroke="#000" stroke-width="0.95" stroke-linejoin="miter"/>
<path d="M496.83,443.32 L479.33,525.65 A106.17,106.17 0 0 1 471.60,523.70 L495.23,442.92 A22.0,22.0 0 0 0 496.83,443.32Z" fill="#F98072" stroke="#000" stroke-width="0.95" stroke-linejoin="miter"/>
<path d="M494.24,442.60 L466.05,524.45 A108.56,108.56 0 0 1 458.46,521.51 L492.70,442.01 A22.0,22.0 0 0 0 494.24,442.60Z" fill="#1D62B0" stroke="#000" stroke-width="0.95" stroke-linejoin="miter"/>
<path d="M491.76,441.57 L449.01,529.21 A119.51,119.51 0 0 1 441.10,524.98 L490.30,440.79 A22.0,22.0 0 0 0 491.76,441.57Z" fill="#7CAEE0" stroke="#000" stroke-width="0.95" stroke-linejoin="miter"/>
<path d="M489.42,440.25 L445.14,508.43 A103.30,103.30 0 0 1 438.80,503.97 L488.07,439.30 A22.0,22.0 0 0 0 489.42,440.25Z" fill="#7D2A78" stroke="#000" stroke-width="0.95" stroke-linejoin="miter"/>
<path d="M487.26,438.65 L443.81,490.44 A89.60,89.60 0 0 1 438.82,485.93 L486.03,437.55 A22.0,22.0 0 0 0 487.26,438.65Z" fill="#AF7BAC" stroke="#000" stroke-width="0.95" stroke-linejoin="miter"/>
<path d="M483.22,434.18 L406.56,486.38 A114.74,114.74 0 0 1 401.98,479.08 L482.34,432.78 A22.0,22.0 0 0 0 483.22,434.18Z" fill="#EED34F" stroke="#000" stroke-width="0.95" stroke-linejoin="miter"/>
<path d="M481.84,431.87 L404.87,471.52 A108.58,108.58 0 0 1 401.41,464.14 L481.14,430.38 A22.0,22.0 0 0 0 481.84,431.87Z" fill="#DC0612" stroke="#000" stroke-width="0.95" stroke-linejoin="miter"/>
<path d="M480.76,429.41 L415.21,453.60 A91.87,91.87 0 0 1 413.07,447.04 L480.25,427.85 A22.0,22.0 0 0 0 480.76,429.41Z" fill="#F98072" stroke="#000" stroke-width="0.95" stroke-linejoin="miter"/>
<path d="M479.99,426.84 L398.84,445.95 A105.36,105.36 0 0 1 397.32,438.19 L479.67,425.22 A22.0,22.0 0 0 0 479.99,426.84Z" fill="#1D62B0" stroke="#000" stroke-width="0.95" stroke-linejoin="miter"/>
<path d="M479.53,424.20 L400.87,432.81 A101.13,101.13 0 0 1 400.33,425.24 L479.41,422.55 A22.0,22.0 0 0 0 479.53,424.20Z" fill="#7CAEE0" stroke="#000" stroke-width="0.95" stroke-linejoin="miter"/>
<path d="M479.40,421.51 L390.05,420.34 A111.36,111.36 0 0 1 390.47,412.00 L479.49,419.86 A22.0,22.0 0 0 0 479.40,421.51Z" fill="#7D2A78" stroke="#000" stroke-width="0.95" stroke-linejoin="miter"/>
<path d="M479.60,418.83 L414.18,409.93 A88.03,88.03 0 0 1 415.31,403.42 L479.88,417.21 A22.0,22.0 0 0 0 479.60,418.83Z" fill="#AF7BAC" stroke="#000" stroke-width="0.95" stroke-linejoin="miter"/>
<path d="M481.22,413.03 L390.18,373.44 A121.27,121.27 0 0 1 394.12,365.24 L481.94,411.54 A22.0,22.0 0 0 0 481.22,413.03Z" fill="#EED34F" stroke="#000" stroke-width="0.95" stroke-linejoin="miter"/>
<path d="M482.44,410.63 L427.71,378.40 A85.52,85.52 0 0 1 431.17,372.99 L483.33,409.24 A22.0,22.0 0 0 0 482.44,410.63Z" fill="#DC0612" stroke="#000" stroke-width="0.95" stroke-linejoin="miter"/>
<path d="M483.95,408.41 L410.05,351.70 A115.15,115.15 0 0 1 415.56,345.05 L485.00,407.14 A22.0,22.0 0 0 0 483.95,408.41Z" fill="#F98072" stroke="#000" stroke-width="0.95" stroke-linejoin="miter"/>
<path d="M485.71,406.38 L417.97,339.81 A116.98,116.98 0 0 1 424.35,333.79 L486.91,405.25 A22.0,22.0 0 0 0 485.71,406.38Z" fill="#1D62B0" stroke="#000" stroke-width="0.95" stroke-linejoin="miter"/>
<path d="M487.70,404.58 L437.61,341.61 A102.47,102.47 0 0 1 443.80,337.05 L489.03,403.60 A22.0,22.0 0 0 0 487.70,404.58Z" fill="#7CAEE0" stroke="#000" stroke-width="0.95" stroke-linejoin="miter"/>
<path d="M489.91,403.04 L443.75,327.72 A110.34,110.34 0 0 1 450.96,323.66 L491.34,402.23 A22.0,22.0 0 0 0 489.91,403.04Z" fill="#7D2A78" stroke="#000" stroke-width="0.95" stroke-linejoin="miter"/>
<path d="M492.28,401.78 L459.05,328.87 A102.13,102.13 0 0 1 466.13,325.95 L493.80,401.15 A22.0,22.0 0 0 0 492.28,401.78Z" fill="#AF7BAC" stroke="#000" stroke-width="0.95" stroke-linejoin="miter"/>
<line x1="501.5" y1="289.9" x2="501.5" y2="399.6" stroke="#222" stroke-width="0.9"/>
<line x1="500.2" y1="398.5" x2="501.5" y2="398.5" stroke="#222" stroke-width="0.9"/>
<text x="492.70" y="400.7" font-size="10.5" textLength="5.4" lengthAdjust="spacingAndGlyphs" fill="#1a1a1a" stroke="#1a1a1a" stroke-width="0.16">0</text>
<line x1="499.4" y1="373.0" x2="501.5" y2="373.0" stroke="#222" stroke-width="0.9"/>
<text x="485.50" y="377.0" font-size="10.5" textLength="13.3" lengthAdjust="spacingAndGlyphs" fill="#1a1a1a" stroke="#1a1a1a" stroke-width="0.16">0.2</text>
<line x1="498.6" y1="347.5" x2="501.5" y2="347.5" stroke="#222" stroke-width="0.9"/>
<text x="484.10" y="354.1" font-size="10.5" textLength="13.3" lengthAdjust="spacingAndGlyphs" fill="#1a1a1a" stroke="#1a1a1a" stroke-width="0.16">0.4</text>
<line x1="497.8" y1="321.9" x2="501.5" y2="321.9" stroke="#222" stroke-width="0.9"/>
<text x="481.10" y="328.2" font-size="10.5" textLength="13.3" lengthAdjust="spacingAndGlyphs" fill="#1a1a1a" stroke="#1a1a1a" stroke-width="0.16">0.6</text>
<line x1="497.0" y1="296.4" x2="501.5" y2="296.4" stroke="#222" stroke-width="0.9"/>
<text x="480.40" y="302.3" font-size="10.5" textLength="13.3" lengthAdjust="spacingAndGlyphs" fill="#1a1a1a" stroke="#1a1a1a" stroke-width="0.16">0.8</text>
<circle cx="501.4" cy="421.8" r="20.6" fill="#000" stroke="#fff" stroke-width="1.2"/>
<text x="501.59999999999997" y="426.40000000000003" font-size="12.2" font-weight="bold" text-anchor="middle" fill="#fff">AUC</text>
<text transform="translate(568.2,293.6) rotate(27.7)" font-size="9.5" font-weight="bold" text-anchor="middle" fill="#111">Testing Cohort</text>
<text transform="translate(644.75,398.9) rotate(85.8)" font-size="9.5" font-weight="bold" text-anchor="middle" fill="#111">Hugo 2016 SKCM</text>
<text transform="translate(590.0,548.3) rotate(-35.0)" font-size="9.5" font-weight="bold" text-anchor="middle" fill="#111">Zhao 2019 GBM</text>
<text transform="translate(444.6,560.4) rotate(21.1)" font-size="9.5" font-weight="bold" text-anchor="middle" fill="#111">Wang 2022 NSCLS</text>
<text transform="translate(349.2,452.9) rotate(79.4)" font-size="9.5" font-weight="bold" text-anchor="middle" fill="#111">Auslander 2018 SKCM</text>
<text transform="translate(398.3,320.6) rotate(-42.1)" font-size="9.5" font-weight="bold" text-anchor="middle" fill="#111">Gide 2019 SKCM</text>
<text x="475.9" y="596.3" font-size="9.4" font-weight="bold" fill="#111">Signature</text>
<rect x="393.7" y="603.0" width="12" height="11.7" fill="#EED34F"/>
<text x="409.7" y="613.0" font-size="9.4" fill="#1a1a1a" stroke="#1a1a1a" stroke-width="0.16">IRE.Sig</text>
<rect x="393.7" y="617.1" width="12" height="11.7" fill="#DC0612"/>
<text x="409.7" y="627.1" font-size="9.4" fill="#1a1a1a" stroke="#1a1a1a" stroke-width="0.16">GEP.Sig</text>
<rect x="393.7" y="631.0" width="12" height="11.7" fill="#F98072"/>
<text x="409.7" y="641.0" font-size="9.4" fill="#1a1a1a" stroke="#1a1a1a" stroke-width="0.16">IFNG.Sig</text>
<rect x="476.5" y="603.0" width="12" height="11.7" fill="#1D62B0"/>
<text x="492.5" y="613.0" font-size="9.4" fill="#1a1a1a" stroke="#1a1a1a" stroke-width="0.16">TIS.Sig</text>
<rect x="476.5" y="617.1" width="12" height="11.7" fill="#7CAEE0"/>
<text x="492.5" y="627.1" font-size="9.4" fill="#1a1a1a" stroke="#1a1a1a" stroke-width="0.16">NLRP3.Sig</text>
<rect x="562.3" y="603.0" width="12" height="11.7" fill="#7D2A78"/>
<text x="578.3" y="613.0" font-size="9.4" fill="#1a1a1a" stroke="#1a1a1a" stroke-width="0.16">C-ECM-up.Sig</text>
<rect x="562.3" y="617.1" width="12" height="11.7" fill="#AF7BAC"/>
<text x="578.3" y="627.1" font-size="9.4" fill="#1a1a1a" stroke="#1a1a1a" stroke-width="0.16">PD−L1.Sig</text>
<text x="303.9" y="691.6" font-size="13.8" font-weight="bold">d</text>
<text x="347.8" y="703.2" font-size="9.5" font-weight="bold" fill="#111">validation set</text>
<line x1="314.8" y1="723.6" x2="314.8" y2="859.8" stroke="#111" stroke-width="0.9"/>
<line x1="314.8" y1="859.8" x2="478.3" y2="859.8" stroke="#111" stroke-width="0.9"/>
<line x1="312.6" y1="729.4" x2="314.8" y2="729.4" stroke="#111" stroke-width="0.9"/>
<text x="307.0" y="732.3" font-size="8.2" text-anchor="end" fill="#1a1a1a" stroke="#1a1a1a" stroke-width="0.16">1.00</text>
<line x1="312.6" y1="760.4" x2="314.8" y2="760.4" stroke="#111" stroke-width="0.9"/>
<text x="307.0" y="763.3" font-size="8.2" text-anchor="end" fill="#1a1a1a" stroke="#1a1a1a" stroke-width="0.16">0.75</text>
<line x1="312.6" y1="791.5" x2="314.8" y2="791.5" stroke="#111" stroke-width="0.9"/>
<text x="307.0" y="794.4" font-size="8.2" text-anchor="end" fill="#1a1a1a" stroke="#1a1a1a" stroke-width="0.16">0.50</text>
<line x1="312.6" y1="822.5" x2="314.8" y2="822.5" stroke="#111" stroke-width="0.9"/>
<text x="307.0" y="825.4" font-size="8.2" text-anchor="end" fill="#1a1a1a" stroke="#1a1a1a" stroke-width="0.16">0.25</text>
<line x1="312.6" y1="853.5" x2="314.8" y2="853.5" stroke="#111" stroke-width="0.9"/>
<text x="307.0" y="856.4" font-size="8.2" text-anchor="end" fill="#1a1a1a" stroke="#1a1a1a" stroke-width="0.16">0.00</text>
<line x1="322.0" y1="859.8" x2="322.0" y2="862.0" stroke="#111" stroke-width="0.9"/>
<text x="322.0" y="870.1" font-size="8.2" text-anchor="middle" fill="#1a1a1a" stroke="#1a1a1a" stroke-width="0.16">0</text>
<line x1="344.3" y1="859.8" x2="344.3" y2="862.0" stroke="#111" stroke-width="0.9"/>
<text x="344.3" y="870.1" font-size="8.2" text-anchor="middle" fill="#1a1a1a" stroke="#1a1a1a" stroke-width="0.16">12</text>
<line x1="366.6" y1="859.8" x2="366.6" y2="862.0" stroke="#111" stroke-width="0.9"/>
<text x="366.6" y="870.1" font-size="8.2" text-anchor="middle" fill="#1a1a1a" stroke="#1a1a1a" stroke-width="0.16">24</text>
<line x1="389.0" y1="859.8" x2="389.0" y2="862.0" stroke="#111" stroke-width="0.9"/>
<text x="389.0" y="870.1" font-size="8.2" text-anchor="middle" fill="#1a1a1a" stroke="#1a1a1a" stroke-width="0.16">36</text>
<line x1="411.3" y1="859.8" x2="411.3" y2="862.0" stroke="#111" stroke-width="0.9"/>
<text x="411.3" y="870.1" font-size="8.2" text-anchor="middle" fill="#1a1a1a" stroke="#1a1a1a" stroke-width="0.16">48</text>
<line x1="433.6" y1="859.8" x2="433.6" y2="862.0" stroke="#111" stroke-width="0.9"/>
<text x="433.6" y="870.1" font-size="8.2" text-anchor="middle" fill="#1a1a1a" stroke="#1a1a1a" stroke-width="0.16">60</text>
<line x1="455.9" y1="859.8" x2="455.9" y2="862.0" stroke="#111" stroke-width="0.9"/>
<text x="455.9" y="870.1" font-size="8.2" text-anchor="middle" fill="#1a1a1a" stroke="#1a1a1a" stroke-width="0.16">72</text>
<path d="M321.5,791.4 H392.4" fill="none" stroke="#222" stroke-width="1.2" stroke-dasharray="4.6,3"/>
<path d="M346.8,791.4 V853.7" fill="none" stroke="#222" stroke-width="1.2" stroke-dasharray="4.6,3"/>
<path d="M392.4,791.4 V853.7" fill="none" stroke="#222" stroke-width="1.2" stroke-dasharray="4.6,3"/>
<path d="M322.8,729.5 L326.1,729.5 L326.1,731.1 L327.7,731.1 L327.7,734.3 L330.1,734.3 L330.1,739.1 L331.7,739.1 L331.7,743.1 L332.5,743.1 L332.5,752.0 L335.7,752.0 L335.7,753.5 L338.1,753.5 L338.1,755.1 L338.9,755.1 L338.9,762.4 L343.7,762.4 L343.7,766.4 L348.5,766.4 L348.5,768.0 L350.1,768.0 L350.1,770.4 L356.6,770.4 L356.6,772.8 L359.0,772.8 L359.0,775.2 L363.0,775.2 L363.0,776.8 L364.6,776.8 L364.6,779.2 L366.2,779.2 L366.2,783.3 L392.3,783.3 L392.3,793.2 L456.4,793.2" fill="none" stroke="#E7B800" stroke-width="1.3"/>
<path d="M322.2,729.5 H324.8 M323.5,728.1 V730.9" stroke="#E7B800" stroke-width="0.8"/>
<path d="M323.7,729.5 H326.3 M325.0,728.1 V730.9" stroke="#E7B800" stroke-width="0.8"/>
<path d="M343.2,766.4 H345.8 M344.5,765.0 V767.8" stroke="#E7B800" stroke-width="0.8"/>
<path d="M345.2,766.4 H347.8 M346.5,765.0 V767.8" stroke="#E7B800" stroke-width="0.8"/>
<path d="M350.7,770.4 H353.3 M352.0,769.0 V771.8" stroke="#E7B800" stroke-width="0.8"/>
<path d="M352.7,770.4 H355.3 M354.0,769.0 V771.8" stroke="#E7B800" stroke-width="0.8"/>
<path d="M356.7,772.8 H359.3 M358.0,771.4 V774.2" stroke="#E7B800" stroke-width="0.8"/>
<path d="M359.7,775.2 H362.3 M361.0,773.8 V776.6" stroke="#E7B800" stroke-width="0.8"/>
<path d="M368.7,783.3 H371.3 M370.0,781.9 V784.7" stroke="#E7B800" stroke-width="0.8"/>
<path d="M371.7,783.3 H374.3 M373.0,781.9 V784.7" stroke="#E7B800" stroke-width="0.8"/>
<path d="M374.7,783.3 H377.3 M376.0,781.9 V784.7" stroke="#E7B800" stroke-width="0.8"/>
<path d="M377.7,783.3 H380.3 M379.0,781.9 V784.7" stroke="#E7B800" stroke-width="0.8"/>
<path d="M380.7,783.3 H383.3 M382.0,781.9 V784.7" stroke="#E7B800" stroke-width="0.8"/>
<path d="M383.7,783.3 H386.3 M385.0,781.9 V784.7" stroke="#E7B800" stroke-width="0.8"/>
<path d="M386.7,783.3 H389.3 M388.0,781.9 V784.7" stroke="#E7B800" stroke-width="0.8"/>
<path d="M395.2,793.2 H397.8 M396.5,791.8 V794.6" stroke="#E7B800" stroke-width="0.8"/>
<path d="M400.7,793.2 H403.3 M402.0,791.8 V794.6" stroke="#E7B800" stroke-width="0.8"/>
<path d="M413.2,793.2 H415.8 M414.5,791.8 V794.6" stroke="#E7B800" stroke-width="0.8"/>
<path d="M416.7,793.2 H419.3 M418.0,791.8 V794.6" stroke="#E7B800" stroke-width="0.8"/>
<path d="M455.1,793.2 H457.7 M456.4,791.8 V794.6" stroke="#E7B800" stroke-width="0.8"/>
<path d="M322.8,732.7 L323.6,732.7 L323.6,735.0 L325.3,735.0 L325.3,738.3 L326.1,738.3 L326.1,741.0 L326.9,741.0 L326.9,745.0 L327.7,745.0 L327.7,752.0 L329.3,752.0 L329.3,754.3 L330.9,754.3 L330.9,757.5 L332.5,757.5 L332.5,762.4 L334.1,762.4 L334.1,768.0 L335.7,768.0 L335.7,774.4 L338.1,774.4 L338.1,779.2 L340.5,779.2 L340.5,782.5 L342.1,782.5 L342.1,785.7 L344.5,785.7 L344.5,788.2 L346.9,788.2 L346.9,791.2 L347.2,794.9 L349.0,794.9 L349.0,796.8 L351.0,796.8 L351.0,798.6 L353.0,798.6 L353.0,802.3 L357.2,802.3 L357.2,806.1 L360.9,806.1 L360.9,809.8 L361.6,809.8 L361.6,813.0 L367.1,813.0 L367.1,815.0 L369.6,815.0 L369.6,817.2 L372.0,817.2 L372.0,821.0 L374.5,821.0 L374.5,822.2 L379.5,822.2 L379.5,823.4 L384.5,823.4 L384.5,824.7 L388.2,824.7 L388.2,827.2 L391.9,827.2 L391.9,830.9 L408.0,830.9 L408.0,834.1 L426.7,834.1 L426.7,838.3 L440.3,838.3" fill="none" stroke="#2E9FDF" stroke-width="1.3"/>
<path d="M321.7,733.5 H324.3 M323.0,732.1 V734.9" stroke="#2E9FDF" stroke-width="0.8"/>
<path d="M324.0,738.3 H326.6 M325.3,736.9 V739.7" stroke="#2E9FDF" stroke-width="0.8"/>
<path d="M328.0,754.3 H330.6 M329.3,752.9 V755.7" stroke="#2E9FDF" stroke-width="0.8"/>
<path d="M331.2,762.4 H333.8 M332.5,761.0 V763.8" stroke="#2E9FDF" stroke-width="0.8"/>
<path d="M343.2,788.2 H345.8 M344.5,786.8 V789.6" stroke="#2E9FDF" stroke-width="0.8"/>
<path d="M345.2,791.2 H347.8 M346.5,789.8 V792.6" stroke="#2E9FDF" stroke-width="0.8"/>
<path d="M352.2,798.6 H354.8 M353.5,797.2 V800.0" stroke="#2E9FDF" stroke-width="0.8"/>
<path d="M356.2,803.0 H358.8 M357.5,801.6 V804.4" stroke="#2E9FDF" stroke-width="0.8"/>
<path d="M360.7,809.8 H363.3 M362.0,808.4 V811.2" stroke="#2E9FDF" stroke-width="0.8"/>
<path d="M363.2,813.0 H365.8 M364.5,811.6 V814.4" stroke="#2E9FDF" stroke-width="0.8"/>
<path d="M364.2,813.0 H366.8 M365.5,811.6 V814.4" stroke="#2E9FDF" stroke-width="0.8"/>
<path d="M372.7,822.2 H375.3 M374.0,820.8 V823.6" stroke="#2E9FDF" stroke-width="0.8"/>
<path d="M379.7,823.4 H382.3 M381.0,822.0 V824.8" stroke="#2E9FDF" stroke-width="0.8"/>
<path d="M380.7,823.4 H383.3 M382.0,822.0 V824.8" stroke="#2E9FDF" stroke-width="0.8"/>
<path d="M390.2,829.0 H392.8 M391.5,827.6 V830.4" stroke="#2E9FDF" stroke-width="0.8"/>
<path d="M394.2,830.9 H396.8 M395.5,829.5 V832.3" stroke="#2E9FDF" stroke-width="0.8"/>
<path d="M398.7,830.9 H401.3 M400.0,829.5 V832.3" stroke="#2E9FDF" stroke-width="0.8"/>
<path d="M418.7,834.1 H421.3 M420.0,832.7 V835.5" stroke="#2E9FDF" stroke-width="0.8"/>
<path d="M431.2,838.3 H433.8 M432.5,836.9 V839.7" stroke="#2E9FDF" stroke-width="0.8"/>
<path d="M434.2,838.3 H436.8 M435.5,836.9 V839.7" stroke="#2E9FDF" stroke-width="0.8"/>
<path d="M436.7,838.3 H439.3 M438.0,836.9 V839.7" stroke="#2E9FDF" stroke-width="0.8"/>
<path d="M439.0,838.3 H441.6 M440.3,836.9 V839.7" stroke="#2E9FDF" stroke-width="0.8"/>
<text x="412.8" y="725.4" font-size="8.2" text-anchor="start" fill="#1a1a1a" xml:space="preserve" stroke="#1a1a1a" stroke-width="0.16">Median OS</text>
<text x="370.6" y="734.6" font-size="8.2" text-anchor="start" fill="#1a1a1a" xml:space="preserve" stroke="#1a1a1a" stroke-width="0.16">Low risk</text>
<text x="408.0" y="734.6" font-size="8.2" text-anchor="start" fill="#1a1a1a" xml:space="preserve" stroke="#1a1a1a" stroke-width="0.16">37.97 months</text>
<text x="370.6" y="743.1" font-size="8.2" text-anchor="start" fill="#1a1a1a" xml:space="preserve" stroke="#1a1a1a" stroke-width="0.16">High risk</text>
<text x="408.0" y="743.1" font-size="8.2" text-anchor="start" fill="#1a1a1a" xml:space="preserve" stroke="#1a1a1a" stroke-width="0.16">13.78 months</text>
<text x="399.6" y="755.5" font-size="8.2" text-anchor="start" fill="#1a1a1a" xml:space="preserve" stroke="#1a1a1a" stroke-width="0.16">HR : 2.34</text>
<text x="388.7" y="763.2" font-size="8.2" text-anchor="start" fill="#1a1a1a" xml:space="preserve" stroke="#1a1a1a" stroke-width="0.16">(95%CI: 1.44−3.79)</text>
<text x="389.5" y="770.4" font-size="8.2" text-anchor="start" fill="#1a1a1a" xml:space="preserve" stroke="#1a1a1a" stroke-width="0.16">Log−rank p: 4e−04</text>
<path d="M359,732.7 H366.6 M362.8,731.3000000000001 V734.1" stroke="#E7B800" stroke-width="1.0"/>
<path d="M359,741.5 H366.6 M362.8,740.1 V742.9" stroke="#2E9FDF" stroke-width="1.0"/>
<text x="399.7" y="877.8" font-size="8.3" font-weight="bold" text-anchor="middle" fill="#111">Time (Months)</text>
<text x="575.2" y="702.9" font-size="9.5" font-weight="bold" fill="#111">testing set</text>
<line x1="521.3" y1="723.5" x2="521.3" y2="859.2" stroke="#111" stroke-width="0.9"/>
<line x1="521.3" y1="859.2" x2="685" y2="859.2" stroke="#111" stroke-width="0.9"/>
<line x1="519.0999999999999" y1="729.3" x2="521.3" y2="729.3" stroke="#111" stroke-width="0.9"/>
<text x="514.0" y="732.2" font-size="8.2" text-anchor="end" fill="#1a1a1a" stroke="#1a1a1a" stroke-width="0.16">1.00</text>
<line x1="519.0999999999999" y1="760.3" x2="521.3" y2="760.3" stroke="#111" stroke-width="0.9"/>
<text x="514.0" y="763.2" font-size="8.2" text-anchor="end" fill="#1a1a1a" stroke="#1a1a1a" stroke-width="0.16">0.75</text>
<line x1="519.0999999999999" y1="791.2" x2="521.3" y2="791.2" stroke="#111" stroke-width="0.9"/>
<text x="514.0" y="794.1" font-size="8.2" text-anchor="end" fill="#1a1a1a" stroke="#1a1a1a" stroke-width="0.16">0.50</text>
<line x1="519.0999999999999" y1="822.2" x2="521.3" y2="822.2" stroke="#111" stroke-width="0.9"/>
<text x="514.0" y="825.1" font-size="8.2" text-anchor="end" fill="#1a1a1a" stroke="#1a1a1a" stroke-width="0.16">0.25</text>
<line x1="519.0999999999999" y1="853.2" x2="521.3" y2="853.2" stroke="#111" stroke-width="0.9"/>
<text x="514.0" y="856.1" font-size="8.2" text-anchor="end" fill="#1a1a1a" stroke="#1a1a1a" stroke-width="0.16">0.00</text>
<line x1="528.2" y1="859.2" x2="528.2" y2="861.4000000000001" stroke="#111" stroke-width="0.9"/>
<text x="528.2" y="869.5" font-size="8.2" text-anchor="middle" fill="#1a1a1a" stroke="#1a1a1a" stroke-width="0.16">0</text>
<line x1="558.1" y1="859.2" x2="558.1" y2="861.4000000000001" stroke="#111" stroke-width="0.9"/>
<text x="558.1" y="869.5" font-size="8.2" text-anchor="middle" fill="#1a1a1a" stroke="#1a1a1a" stroke-width="0.16">12</text>
<line x1="588.0" y1="859.2" x2="588.0" y2="861.4000000000001" stroke="#111" stroke-width="0.9"/>
<text x="588.0" y="869.5" font-size="8.2" text-anchor="middle" fill="#1a1a1a" stroke="#1a1a1a" stroke-width="0.16">24</text>
<line x1="617.8" y1="859.2" x2="617.8" y2="861.4000000000001" stroke="#111" stroke-width="0.9"/>
<text x="617.8" y="869.5" font-size="8.2" text-anchor="middle" fill="#1a1a1a" stroke="#1a1a1a" stroke-width="0.16">36</text>
<line x1="647.7" y1="859.2" x2="647.7" y2="861.4000000000001" stroke="#111" stroke-width="0.9"/>
<text x="647.7" y="869.5" font-size="8.2" text-anchor="middle" fill="#1a1a1a" stroke="#1a1a1a" stroke-width="0.16">48</text>
<path d="M527.9,791.2 H567.4" fill="none" stroke="#222" stroke-width="1.2" stroke-dasharray="4.6,3"/>
<path d="M567.4,791.2 V853.2" fill="none" stroke="#222" stroke-width="1.2" stroke-dasharray="4.6,3"/>
<path d="M527.9,729.3 L565.3,729.3 L565.3,733.0 L566.3,733.0 L566.3,740.3 L567.3,740.3 L567.3,750.8 L568.3,750.8 L568.3,762.8 L577.3,762.8 L577.3,774.2 L664.1,774.2" fill="none" stroke="#E7B800" stroke-width="1.3"/>
<path d="M558.2,729.3 H560.8 M559.5,727.9 V730.7" stroke="#E7B800" stroke-width="0.8"/>
<path d="M562.7,729.3 H565.3 M564.0,727.9 V730.7" stroke="#E7B800" stroke-width="0.8"/>
<path d="M563.7,729.3 H566.3 M565.0,727.9 V730.7" stroke="#E7B800" stroke-width="0.8"/>
<path d="M579.7,774.2 H582.3 M581.0,772.8 V775.6" stroke="#E7B800" stroke-width="0.8"/>
<path d="M581.2,774.2 H583.8 M582.5,772.8 V775.6" stroke="#E7B800" stroke-width="0.8"/>
<path d="M608.7,774.2 H611.3 M610.0,772.8 V775.6" stroke="#E7B800" stroke-width="0.8"/>
<path d="M612.7,774.2 H615.3 M614.0,772.8 V775.6" stroke="#E7B800" stroke-width="0.8"/>
<path d="M638.7,774.2 H641.3 M640.0,772.8 V775.6" stroke="#E7B800" stroke-width="0.8"/>
<path d="M653.7,774.2 H656.3 M655.0,772.8 V775.6" stroke="#E7B800" stroke-width="0.8"/>
<path d="M662.7,774.2 H665.3 M664.0,772.8 V775.6" stroke="#E7B800" stroke-width="0.8"/>
<path d="M527.9,729.3 L530.0,729.3 L530.0,733.0 L531.5,733.0 L531.5,736.5 L533.3,736.5 L533.3,740.3 L535.0,740.3 L535.0,744.0 L536.9,744.0 L536.9,747.8 L538.4,747.8 L538.4,750.0 L539.9,750.0 L539.9,752.3 L541.4,752.3 L541.4,756.8 L542.9,756.8 L542.9,766.4 L550.3,766.4 L550.3,770.0 L551.8,770.0 L551.8,773.3 L553.3,773.3 L553.3,777.0 L554.8,777.0 L554.8,780.7 L556.3,780.7 L556.3,786.7 L560.8,786.7 L560.8,788.2 L565.3,788.2 L565.3,789.7 L566.8,789.7 L566.8,791.2 L574.3,791.2 L574.3,792.7 L578.8,792.7 L578.8,795.7 L581.8,795.7 L581.8,798.7 L587.8,798.7 L587.8,801.7 L593.7,801.7 L593.7,804.7 L599.7,804.7 L599.7,807.7 L605.7,807.7 L605.7,809.2 L608.7,809.2 L608.7,813.1 L613.2,813.1 L613.2,816.7 L616.2,816.7 L616.2,817.3 L643.1,817.3 L643.1,824.7 L662.6,824.7 L662.6,839.1 L668.0,839.1 L668.0,853.2" fill="none" stroke="#2E9FDF" stroke-width="1.3"/>
<path d="M528.2,729.3 H530.8 M529.5,727.9 V730.7" stroke="#2E9FDF" stroke-width="0.8"/>
<path d="M530.2,735.0 H532.8 M531.5,733.6 V736.4" stroke="#2E9FDF" stroke-width="0.8"/>
<path d="M563.7,788.2 H566.3 M565.0,786.8 V789.6" stroke="#2E9FDF" stroke-width="0.8"/>
<path d="M567.2,791.2 H569.8 M568.5,789.8 V792.6" stroke="#2E9FDF" stroke-width="0.8"/>
<path d="M573.7,791.8 H576.3 M575.0,790.4 V793.2" stroke="#2E9FDF" stroke-width="0.8"/>
<path d="M576.7,793.0 H579.3 M578.0,791.6 V794.4" stroke="#2E9FDF" stroke-width="0.8"/>
<path d="M581.7,797.0 H584.3 M583.0,795.6 V798.4" stroke="#2E9FDF" stroke-width="0.8"/>
<path d="M583.7,798.7 H586.3 M585.0,797.3 V800.1" stroke="#2E9FDF" stroke-width="0.8"/>
<path d="M588.7,801.7 H591.3 M590.0,800.3 V803.1" stroke="#2E9FDF" stroke-width="0.8"/>
<path d="M590.7,801.7 H593.3 M592.0,800.3 V803.1" stroke="#2E9FDF" stroke-width="0.8"/>
<path d="M595.7,804.7 H598.3 M597.0,803.3 V806.1" stroke="#2E9FDF" stroke-width="0.8"/>
<path d="M601.7,807.7 H604.3 M603.0,806.3 V809.1" stroke="#2E9FDF" stroke-width="0.8"/>
<path d="M604.7,808.5 H607.3 M606.0,807.1 V809.9" stroke="#2E9FDF" stroke-width="0.8"/>
<path d="M607.7,810.0 H610.3 M609.0,808.6 V811.4" stroke="#2E9FDF" stroke-width="0.8"/>
<path d="M609.7,813.1 H612.3 M611.0,811.7 V814.5" stroke="#2E9FDF" stroke-width="0.8"/>
<path d="M611.7,816.7 H614.3 M613.0,815.3 V818.1" stroke="#2E9FDF" stroke-width="0.8"/>
<path d="M616.7,817.3 H619.3 M618.0,815.9 V818.7" stroke="#2E9FDF" stroke-width="0.8"/>
<path d="M640.7,817.3 H643.3 M642.0,815.9 V818.7" stroke="#2E9FDF" stroke-width="0.8"/>
<path d="M646.7,824.7 H649.3 M648.0,823.3 V826.1" stroke="#2E9FDF" stroke-width="0.8"/>
<path d="M649.7,824.7 H652.3 M651.0,823.3 V826.1" stroke="#2E9FDF" stroke-width="0.8"/>
<text x="635.9" y="725.0" font-size="8.2" text-anchor="start" fill="#1a1a1a" xml:space="preserve" stroke="#1a1a1a" stroke-width="0.16">Median OS</text>
<text x="597.6" y="733.7" font-size="8.2" text-anchor="start" fill="#1a1a1a" xml:space="preserve" stroke="#1a1a1a" stroke-width="0.16">Low risk</text>
<text x="636.7" y="733.7" font-size="8.2" text-anchor="start" fill="#1a1a1a" xml:space="preserve" stroke="#1a1a1a" stroke-width="0.16">NA months</text>
<text x="597.6" y="742.3" font-size="8.2" text-anchor="start" fill="#1a1a1a" xml:space="preserve" stroke="#1a1a1a" stroke-width="0.16">High risk</text>
<text x="635.5" y="742.3" font-size="8.2" text-anchor="start" fill="#1a1a1a" xml:space="preserve" stroke="#1a1a1a" stroke-width="0.16">15.5 months</text>
<text x="623.2" y="753.6" font-size="8.2" text-anchor="start" fill="#1a1a1a" xml:space="preserve" stroke="#1a1a1a" stroke-width="0.16">HR : 3.50</text>
<text x="611.7" y="761.0" font-size="8.2" text-anchor="start" fill="#1a1a1a" xml:space="preserve" stroke="#1a1a1a" stroke-width="0.16">(95%CI: 1.27−9.67)</text>
<text x="614.5" y="767.9" font-size="8.2" text-anchor="start" fill="#1a1a1a" xml:space="preserve" stroke="#1a1a1a" stroke-width="0.16">Log−rank p: 0.01</text>
<path d="M586.1,731.9 H593.8 M590.0,730.5 V733.3" stroke="#E7B800" stroke-width="1.0"/>
<path d="M586.1,740.3 H593.8 M590.0,738.9 V741.6999999999999" stroke="#2E9FDF" stroke-width="1.0"/>
<text x="605.7" y="877.6" font-size="8.3" font-weight="bold" text-anchor="middle" fill="#111">Time (Months)</text>
<text transform="translate(494.6,788.2) rotate(-90)" font-size="8.2" font-weight="bold" text-anchor="middle" fill="#111">OS(probability)</text>
<text x="599.1" y="702.9" font-size="9.5" font-weight="bold" text-anchor="middle" fill="#111"></text>
</svg>
</body></html>
